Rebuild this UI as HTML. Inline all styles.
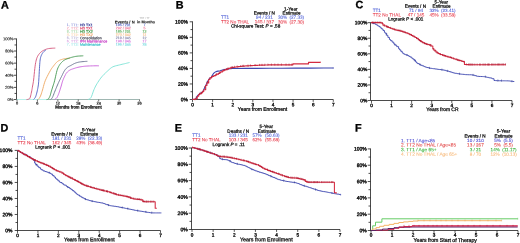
<!DOCTYPE html>
<html><head><meta charset="utf-8"><style>
html,body{margin:0;padding:0;background:#fff;width:520px;height:243px;overflow:hidden}
svg{display:block}
text{font-family:"Liberation Sans", sans-serif;stroke-width:0.12px;paint-order:stroke}
</style></head><body>
<svg width="520" height="243" viewBox="0 0 520 243">
<defs><filter id="bl" x="0" y="0" width="520" height="243" filterUnits="userSpaceOnUse"><feGaussianBlur stdDeviation="0.45"/></filter></defs>
<rect width="520" height="243" fill="#fff"/>
<g filter="url(#bl)">
<rect width="520" height="243" fill="#fff"/>
<text x="1.00" y="8.42" transform="rotate(0.05 1.00 8.42)" font-size="10.8" fill="#000" stroke="#000" text-anchor="start" font-weight="bold" style="stroke-width:0.3px">A</text>
<line x1="16.50" y1="38.50" x2="16.50" y2="99.90" stroke="#2a2a2a" stroke-width="0.85"/>
<line x1="13.70" y1="38.90" x2="16.50" y2="38.90" stroke="#222" stroke-width="0.8"/>
<text x="13.40" y="40.31" transform="rotate(0.05 13.40 40.31)" font-size="4.1" fill="#111" stroke="#111" text-anchor="end" font-weight="normal" style="stroke-width:0.12px">100%</text>
<line x1="14.50" y1="44.96" x2="16.50" y2="44.96" stroke="#222" stroke-width="0.8"/>
<line x1="13.70" y1="51.02" x2="16.50" y2="51.02" stroke="#222" stroke-width="0.8"/>
<text x="13.40" y="52.43" transform="rotate(0.05 13.40 52.43)" font-size="4.1" fill="#111" stroke="#111" text-anchor="end" font-weight="normal" style="stroke-width:0.12px">80%</text>
<line x1="14.50" y1="57.08" x2="16.50" y2="57.08" stroke="#222" stroke-width="0.8"/>
<line x1="13.70" y1="63.14" x2="16.50" y2="63.14" stroke="#222" stroke-width="0.8"/>
<text x="13.40" y="64.55" transform="rotate(0.05 13.40 64.55)" font-size="4.1" fill="#111" stroke="#111" text-anchor="end" font-weight="normal" style="stroke-width:0.12px">60%</text>
<line x1="14.50" y1="69.20" x2="16.50" y2="69.20" stroke="#222" stroke-width="0.8"/>
<line x1="13.70" y1="75.26" x2="16.50" y2="75.26" stroke="#222" stroke-width="0.8"/>
<text x="13.40" y="76.67" transform="rotate(0.05 13.40 76.67)" font-size="4.1" fill="#111" stroke="#111" text-anchor="end" font-weight="normal" style="stroke-width:0.12px">40%</text>
<line x1="14.50" y1="81.32" x2="16.50" y2="81.32" stroke="#222" stroke-width="0.8"/>
<line x1="13.70" y1="87.38" x2="16.50" y2="87.38" stroke="#222" stroke-width="0.8"/>
<text x="13.40" y="88.79" transform="rotate(0.05 13.40 88.79)" font-size="4.1" fill="#111" stroke="#111" text-anchor="end" font-weight="normal" style="stroke-width:0.12px">20%</text>
<line x1="14.50" y1="93.44" x2="16.50" y2="93.44" stroke="#222" stroke-width="0.8"/>
<line x1="13.70" y1="99.50" x2="16.50" y2="99.50" stroke="#222" stroke-width="0.8"/>
<text x="13.40" y="100.91" transform="rotate(0.05 13.40 100.91)" font-size="4.1" fill="#111" stroke="#111" text-anchor="end" font-weight="normal" style="stroke-width:0.12px">0%</text>
<line x1="16.50" y1="99.50" x2="48.00" y2="99.50" stroke="#a8ece4" stroke-width="0.8"/>
<line x1="48.00" y1="99.50" x2="139.60" y2="99.50" stroke="#88a49e" stroke-width="0.8"/>
<line x1="17.00" y1="99.50" x2="17.00" y2="101.60" stroke="#333" stroke-width="0.7"/>
<text x="17.00" y="104.64" transform="rotate(0.05 17.00 104.64)" font-size="3.9" fill="#222" stroke="#222" text-anchor="middle" font-weight="normal" style="stroke-width:0.2px">0</text>
<line x1="37.42" y1="99.50" x2="37.42" y2="101.60" stroke="#333" stroke-width="0.7"/>
<text x="37.42" y="104.64" transform="rotate(0.05 37.42 104.64)" font-size="3.9" fill="#222" stroke="#222" text-anchor="middle" font-weight="normal" style="stroke-width:0.2px">6</text>
<line x1="57.84" y1="99.50" x2="57.84" y2="101.60" stroke="#333" stroke-width="0.7"/>
<text x="57.84" y="104.64" transform="rotate(0.05 57.84 104.64)" font-size="3.9" fill="#222" stroke="#222" text-anchor="middle" font-weight="normal" style="stroke-width:0.2px">12</text>
<line x1="78.26" y1="99.50" x2="78.26" y2="101.60" stroke="#333" stroke-width="0.7"/>
<text x="78.26" y="104.64" transform="rotate(0.05 78.26 104.64)" font-size="3.9" fill="#222" stroke="#222" text-anchor="middle" font-weight="normal" style="stroke-width:0.2px">18</text>
<line x1="98.68" y1="99.50" x2="98.68" y2="101.60" stroke="#333" stroke-width="0.7"/>
<text x="98.68" y="104.64" transform="rotate(0.05 98.68 104.64)" font-size="3.9" fill="#222" stroke="#222" text-anchor="middle" font-weight="normal" style="stroke-width:0.2px">24</text>
<line x1="119.10" y1="99.50" x2="119.10" y2="101.60" stroke="#333" stroke-width="0.7"/>
<text x="119.10" y="104.64" transform="rotate(0.05 119.10 104.64)" font-size="3.9" fill="#222" stroke="#222" text-anchor="middle" font-weight="normal" style="stroke-width:0.2px">30</text>
<line x1="139.52" y1="99.50" x2="139.52" y2="101.60" stroke="#333" stroke-width="0.7"/>
<text x="139.52" y="104.64" transform="rotate(0.05 139.52 104.64)" font-size="3.9" fill="#222" stroke="#222" text-anchor="middle" font-weight="normal" style="stroke-width:0.2px">36</text>
<text x="78.40" y="108.51" transform="rotate(0.05 78.40 108.51)" font-size="4.38" fill="#1a1a1a" stroke="#1a1a1a" text-anchor="middle" font-weight="normal" style="stroke-width:0.3px">Months from Enrollment</text>
<path d="M26.50,99.60 L26.78,99.56 L27.18,99.51 L27.64,99.44 L28.10,99.34 L28.50,99.20 L28.83,99.09 L29.14,99.01 L29.42,98.86 L29.71,98.56 L30.00,98.00 L30.31,97.11 L30.62,95.95 L30.93,94.63 L31.23,93.28 L31.50,92.00 L31.75,90.80 L31.97,89.60 L32.19,88.40 L32.39,87.20 L32.60,86.00 L32.80,84.92 L32.98,83.97 L33.17,82.96 L33.37,81.70 L33.60,80.00 L33.87,77.64 L34.16,74.73 L34.48,71.63 L34.79,68.68 L35.10,66.20 L35.39,64.26 L35.67,62.64 L35.95,61.24 L36.26,59.99 L36.60,58.80 L36.98,57.71 L37.39,56.76 L37.83,55.92 L38.30,55.14 L38.80,54.40 L39.33,53.70 L39.88,53.06 L40.46,52.48 L41.10,51.93 L41.80,51.40 L42.60,50.89 L43.49,50.40 L44.42,49.94 L45.34,49.54 L46.20,49.20 L46.97,48.94 L47.69,48.76 L48.40,48.62 L49.15,48.51 L50.00,48.40 L51.05,48.30 L52.27,48.23 L53.49,48.17 L54.56,48.13 L55.30,48.10" fill="none" stroke="#d65c80" stroke-width="0.95" stroke-opacity="1.0" stroke-linejoin="round" stroke-linecap="butt"/>
<path d="M33.50,99.60 L33.78,99.28 L34.18,98.86 L34.64,98.34 L35.10,97.72 L35.50,97.00 L35.84,96.17 L36.15,95.22 L36.45,94.19 L36.73,93.10 L37.00,92.00 L37.27,90.86 L37.53,89.67 L37.78,88.45 L38.00,87.22 L38.20,86.00 L38.36,84.92 L38.47,83.97 L38.57,82.96 L38.68,81.70 L38.80,80.00 L38.95,77.64 L39.11,74.73 L39.28,71.63 L39.44,68.68 L39.60,66.20 L39.73,64.26 L39.85,62.64 L39.97,61.24 L40.11,59.99 L40.30,58.80 L40.54,57.71 L40.81,56.76 L41.11,55.92 L41.44,55.14 L41.80,54.40 L42.20,53.68 L42.64,53.02 L43.10,52.42 L43.56,51.88 L44.00,51.40 L44.44,51.00 L44.91,50.66 L45.35,50.38 L45.73,50.16 L46.00,50.00" fill="none" stroke="#5666c6" stroke-width="0.95" stroke-opacity="1.0" stroke-linejoin="round" stroke-linecap="butt"/>
<path d="M38.30,99.60 L38.60,99.15 L39.03,98.53 L39.53,97.79 L40.04,96.93 L40.50,96.00 L40.90,95.00 L41.28,93.93 L41.66,92.75 L42.06,91.44 L42.50,90.00 L42.96,88.38 L43.41,86.60 L43.91,84.71 L44.49,82.76 L45.20,80.80 L46.11,78.72 L47.20,76.48 L48.35,74.26 L49.45,72.21 L50.40,70.50 L51.15,69.22 L51.79,68.24 L52.36,67.46 L52.91,66.76 L53.50,66.00 L54.12,65.18 L54.75,64.38 L55.37,63.62 L55.99,62.92 L56.60,62.30 L57.19,61.78 L57.76,61.33 L58.33,60.95 L58.90,60.62 L59.50,60.30 L60.12,60.02 L60.75,59.78 L61.40,59.57 L62.05,59.38 L62.70,59.20 L63.34,59.03 L63.98,58.87 L64.62,58.73 L65.29,58.61 L66.00,58.50 L66.82,58.41 L67.74,58.34 L68.65,58.28 L69.44,58.23 L70.00,58.20" fill="none" stroke="#eeac68" stroke-width="0.95" stroke-opacity="1.0" stroke-linejoin="round" stroke-linecap="butt"/>
<path d="M46.50,99.60 L46.75,99.56 L47.10,99.52 L47.50,99.44 L47.92,99.28 L48.30,99.00 L48.65,98.58 L49.00,98.06 L49.35,97.45 L49.68,96.76 L50.00,96.00 L50.30,95.14 L50.57,94.19 L50.84,93.17 L51.11,92.12 L51.40,91.10 L51.71,90.09 L52.03,89.08 L52.35,88.06 L52.68,87.03 L53.00,86.00 L53.31,85.05 L53.60,84.17 L53.90,83.25 L54.23,82.17 L54.60,80.80 L55.03,78.98 L55.51,76.79 L56.02,74.48 L56.52,72.30 L57.00,70.50 L57.45,69.13 L57.88,68.03 L58.31,67.12 L58.74,66.30 L59.20,65.50 L59.68,64.73 L60.16,64.05 L60.66,63.43 L61.18,62.85 L61.70,62.30 L62.22,61.77 L62.72,61.29 L63.25,60.84 L63.83,60.41 L64.50,60.00 L65.28,59.60 L66.16,59.22 L67.08,58.85 L68.01,58.51 L68.90,58.20 L69.74,57.92 L70.56,57.66 L71.37,57.42 L72.18,57.20 L73.00,57.00 L73.79,56.81 L74.54,56.63 L75.31,56.47 L76.15,56.33 L77.10,56.20 L78.30,56.09 L79.73,55.99 L81.17,55.91 L82.42,55.85 L83.30,55.80" fill="none" stroke="#4c9c58" stroke-width="0.95" stroke-opacity="1.0" stroke-linejoin="round" stroke-linecap="butt"/>
<path d="M50.50,99.60 L50.75,99.38 L51.09,99.12 L51.50,98.76 L51.94,98.24 L52.40,97.50 L52.88,96.47 L53.39,95.19 L53.93,93.78 L54.48,92.34 L55.00,91.00 L55.52,89.74 L56.04,88.48 L56.55,87.25 L57.04,86.08 L57.50,85.00 L57.91,84.06 L58.27,83.24 L58.62,82.47 L58.98,81.68 L59.40,80.80 L59.88,79.81 L60.39,78.74 L60.93,77.65 L61.47,76.56 L62.00,75.50 L62.52,74.45 L63.03,73.39 L63.54,72.36 L64.06,71.38 L64.60,70.50 L65.15,69.72 L65.71,69.03 L66.28,68.40 L66.88,67.83 L67.50,67.30 L68.16,66.84 L68.86,66.45 L69.57,66.10 L70.29,65.76 L71.00,65.40 L71.70,65.01 L72.40,64.61 L73.09,64.21 L73.79,63.84 L74.50,63.50 L75.21,63.21 L75.92,62.94 L76.63,62.70 L77.36,62.49 L78.10,62.30 L78.84,62.14 L79.57,62.01 L80.32,61.90 L81.12,61.80 L82.00,61.70 L83.07,61.60 L84.31,61.51 L85.56,61.42 L86.64,61.35 L87.40,61.30" fill="none" stroke="#6e7694" stroke-width="0.95" stroke-opacity="1.0" stroke-linejoin="round" stroke-linecap="butt"/>
<path d="M54.50,99.60 L54.79,99.40 L55.21,99.14 L55.70,98.82 L56.18,98.44 L56.60,98.00 L56.96,97.50 L57.29,96.94 L57.60,96.33 L57.90,95.68 L58.20,95.00 L58.49,94.30 L58.76,93.56 L59.04,92.79 L59.31,91.97 L59.60,91.10 L59.91,90.16 L60.23,89.15 L60.56,88.10 L60.88,87.05 L61.20,86.00 L61.50,84.96 L61.78,83.91 L62.06,82.86 L62.36,81.82 L62.70,80.80 L63.08,79.79 L63.50,78.78 L63.94,77.80 L64.38,76.86 L64.80,76.00 L65.19,75.22 L65.55,74.50 L65.92,73.84 L66.32,73.21 L66.80,72.60 L67.35,72.01 L67.96,71.45 L68.60,70.92 L69.29,70.44 L70.00,70.00 L70.75,69.62 L71.54,69.31 L72.36,69.03 L73.19,68.76 L74.00,68.50 L74.78,68.24 L75.54,67.98 L76.31,67.74 L77.12,67.52 L78.00,67.30 L78.99,67.09 L80.06,66.89 L81.16,66.71 L82.26,66.54 L83.30,66.40 L84.24,66.28 L85.11,66.19 L85.98,66.12 L86.92,66.06 L88.00,66.00 L89.30,65.94 L90.78,65.90 L92.31,65.86 L93.76,65.82 L95.00,65.80 L96.06,65.79 L97.01,65.79 L97.83,65.79 L98.50,65.80 L99.00,65.80" fill="none" stroke="#cc68dc" stroke-width="0.95" stroke-opacity="1.0" stroke-linejoin="round" stroke-linecap="butt"/>
<path d="M88.00,99.60 L88.41,99.41 L88.98,99.19 L89.66,98.86 L90.35,98.32 L91.00,97.50 L91.60,96.26 L92.20,94.66 L92.80,92.89 L93.40,91.14 L94.00,89.60 L94.57,88.31 L95.11,87.14 L95.67,86.04 L96.28,84.91 L97.00,83.70 L97.83,82.37 L98.73,80.97 L99.71,79.54 L100.73,78.14 L101.80,76.80 L102.94,75.51 L104.17,74.23 L105.42,73.01 L106.65,71.85 L107.80,70.80 L108.82,69.86 L109.74,69.00 L110.65,68.22 L111.61,67.52 L112.70,66.90 L113.97,66.37 L115.36,65.93 L116.82,65.57 L118.25,65.23 L119.60,64.90 L120.87,64.58 L122.12,64.28 L123.32,64.00 L124.46,63.74 L125.50,63.50 L126.49,63.26 L127.43,63.02 L128.28,62.81 L128.99,62.63 L129.50,62.50" fill="none" stroke="#7ee4d6" stroke-width="0.95" stroke-opacity="1.0" stroke-linejoin="round" stroke-linecap="butt"/>
<text x="144.50" y="19.09" transform="rotate(0.05 144.50 19.09)" font-size="2.6" fill="#999" stroke="#999" text-anchor="middle" font-weight="normal" style="stroke-width:0">TTP / TT</text>
<text x="114.80" y="23.41" transform="rotate(0.05 114.80 23.41)" font-size="4.1" fill="#111" stroke="#111" text-anchor="start" font-weight="bold" style="stroke-width:0.1px">Events / N</text>
<text x="137.00" y="23.31" transform="rotate(0.05 137.00 23.31)" font-size="3.8" fill="#111" stroke="#111" text-anchor="start" font-weight="bold" style="stroke-width:0.1px">in Months</text>
<text x="66.70" y="26.14" transform="rotate(0.05 66.70 26.14)" font-size="3.6" fill="#8890d8" stroke="#8890d8" text-anchor="start" font-weight="normal" style="stroke-width:0.1px">1.</text>
<text x="71.00" y="26.14" transform="rotate(0.05 71.00 26.14)" font-size="3.6" fill="#8890d8" stroke="#8890d8" text-anchor="start" font-weight="normal" style="stroke-width:0.1px">TT1:</text>
<text x="80.00" y="26.14" transform="rotate(0.05 80.00 26.14)" font-size="3.6" fill="#3a4098" stroke="#3a4098" text-anchor="start" font-weight="normal" style="stroke-width:0.2px">HD TX1</text>
<text x="123.20" y="26.14" transform="rotate(0.05 123.20 26.14)" font-size="3.6" fill="#6070c8" stroke="#6070c8" text-anchor="middle" font-weight="normal" style="stroke-width:0.15px">195 / 231</text>
<text x="144.50" y="26.14" transform="rotate(0.05 144.50 26.14)" font-size="3.6" fill="#6070c8" stroke="#6070c8" text-anchor="middle" font-weight="normal" style="stroke-width:0.15px">7</text>
<text x="66.70" y="29.39" transform="rotate(0.05 66.70 29.39)" font-size="3.6" fill="#f0a0b4" stroke="#f0a0b4" text-anchor="start" font-weight="normal" style="stroke-width:0.1px">2.</text>
<text x="71.00" y="29.39" transform="rotate(0.05 71.00 29.39)" font-size="3.6" fill="#f0a0b4" stroke="#f0a0b4" text-anchor="start" font-weight="normal" style="stroke-width:0.1px">TT2:</text>
<text x="80.00" y="29.39" transform="rotate(0.05 80.00 29.39)" font-size="3.6" fill="#e05070" stroke="#e05070" text-anchor="start" font-weight="normal" style="stroke-width:0.2px">HD TX1</text>
<text x="123.20" y="29.39" transform="rotate(0.05 123.20 29.39)" font-size="3.6" fill="#f080a0" stroke="#f080a0" text-anchor="middle" font-weight="normal" style="stroke-width:0.15px">292 / 342</text>
<text x="144.50" y="29.39" transform="rotate(0.05 144.50 29.39)" font-size="3.6" fill="#f080a0" stroke="#f080a0" text-anchor="middle" font-weight="normal" style="stroke-width:0.15px">5</text>
<text x="66.70" y="32.64" transform="rotate(0.05 66.70 32.64)" font-size="3.6" fill="#a0d4a0" stroke="#a0d4a0" text-anchor="start" font-weight="normal" style="stroke-width:0.1px">3.</text>
<text x="71.00" y="32.64" transform="rotate(0.05 71.00 32.64)" font-size="3.6" fill="#a0d4a0" stroke="#a0d4a0" text-anchor="start" font-weight="normal" style="stroke-width:0.1px">TT1:</text>
<text x="80.00" y="32.64" transform="rotate(0.05 80.00 32.64)" font-size="3.6" fill="#3c9440" stroke="#3c9440" text-anchor="start" font-weight="normal" style="stroke-width:0.2px">HD TX2</text>
<text x="123.20" y="32.64" transform="rotate(0.05 123.20 32.64)" font-size="3.6" fill="#60b060" stroke="#60b060" text-anchor="middle" font-weight="normal" style="stroke-width:0.15px">185 / 231</text>
<text x="144.50" y="32.64" transform="rotate(0.05 144.50 32.64)" font-size="3.6" fill="#60b060" stroke="#60b060" text-anchor="middle" font-weight="normal" style="stroke-width:0.15px">12</text>
<text x="66.70" y="35.89" transform="rotate(0.05 66.70 35.89)" font-size="3.6" fill="#f8d0a8" stroke="#f8d0a8" text-anchor="start" font-weight="normal" style="stroke-width:0.1px">4.</text>
<text x="71.00" y="35.89" transform="rotate(0.05 71.00 35.89)" font-size="3.6" fill="#f8d0a8" stroke="#f8d0a8" text-anchor="start" font-weight="normal" style="stroke-width:0.1px">TT2:</text>
<text x="80.00" y="35.89" transform="rotate(0.05 80.00 35.89)" font-size="3.6" fill="#f0aa70" stroke="#f0aa70" text-anchor="start" font-weight="normal" style="stroke-width:0.2px">HD TX2</text>
<text x="123.20" y="35.89" transform="rotate(0.05 123.20 35.89)" font-size="3.6" fill="#f4c090" stroke="#f4c090" text-anchor="middle" font-weight="normal" style="stroke-width:0.15px">270 / 342</text>
<text x="144.50" y="35.89" transform="rotate(0.05 144.50 35.89)" font-size="3.6" fill="#f4c090" stroke="#f4c090" text-anchor="middle" font-weight="normal" style="stroke-width:0.15px">11</text>
<text x="66.70" y="39.14" transform="rotate(0.05 66.70 39.14)" font-size="3.6" fill="#b0a8d0" stroke="#b0a8d0" text-anchor="start" font-weight="normal" style="stroke-width:0.1px">5.</text>
<text x="71.00" y="39.14" transform="rotate(0.05 71.00 39.14)" font-size="3.6" fill="#b0a8d0" stroke="#b0a8d0" text-anchor="start" font-weight="normal" style="stroke-width:0.1px">TT2:</text>
<text x="80.00" y="39.14" transform="rotate(0.05 80.00 39.14)" font-size="3.6" fill="#50505e" stroke="#50505e" text-anchor="start" font-weight="normal" style="stroke-width:0.2px">Consolidation</text>
<text x="123.20" y="39.14" transform="rotate(0.05 123.20 39.14)" font-size="3.6" fill="#9090b0" stroke="#9090b0" text-anchor="middle" font-weight="normal" style="stroke-width:0.15px">219 / 345</text>
<text x="144.50" y="39.14" transform="rotate(0.05 144.50 39.14)" font-size="3.6" fill="#9090b0" stroke="#9090b0" text-anchor="middle" font-weight="normal" style="stroke-width:0.15px">12</text>
<text x="66.70" y="42.39" transform="rotate(0.05 66.70 42.39)" font-size="3.6" fill="#d8a0e0" stroke="#d8a0e0" text-anchor="start" font-weight="normal" style="stroke-width:0.1px">6.</text>
<text x="71.00" y="42.39" transform="rotate(0.05 71.00 42.39)" font-size="3.6" fill="#d8a0e0" stroke="#d8a0e0" text-anchor="start" font-weight="normal" style="stroke-width:0.1px">TT2:</text>
<text x="80.00" y="42.39" transform="rotate(0.05 80.00 42.39)" font-size="3.6" fill="#c848c8" stroke="#c848c8" text-anchor="start" font-weight="normal" style="stroke-width:0.2px">IFN Maintenance</text>
<text x="123.20" y="42.39" transform="rotate(0.05 123.20 42.39)" font-size="3.6" fill="#d880e0" stroke="#d880e0" text-anchor="middle" font-weight="normal" style="stroke-width:0.15px">198 / 345</text>
<text x="144.50" y="42.39" transform="rotate(0.05 144.50 42.39)" font-size="3.6" fill="#d880e0" stroke="#d880e0" text-anchor="middle" font-weight="normal" style="stroke-width:0.15px">17</text>
<text x="66.70" y="45.64" transform="rotate(0.05 66.70 45.64)" font-size="3.6" fill="#a0e8e8" stroke="#a0e8e8" text-anchor="start" font-weight="normal" style="stroke-width:0.1px">7.</text>
<text x="71.00" y="45.64" transform="rotate(0.05 71.00 45.64)" font-size="3.6" fill="#a0e8e8" stroke="#a0e8e8" text-anchor="start" font-weight="normal" style="stroke-width:0.1px">TT2:</text>
<text x="80.00" y="45.64" transform="rotate(0.05 80.00 45.64)" font-size="3.6" fill="#48c4cc" stroke="#48c4cc" text-anchor="start" font-weight="normal" style="stroke-width:0.2px">Maintenance</text>
<text x="123.20" y="45.64" transform="rotate(0.05 123.20 45.64)" font-size="3.6" fill="#80dce0" stroke="#80dce0" text-anchor="middle" font-weight="normal" style="stroke-width:0.15px">196 / 345</text>
<text x="144.50" y="45.64" transform="rotate(0.05 144.50 45.64)" font-size="3.6" fill="#80dce0" stroke="#80dce0" text-anchor="middle" font-weight="normal" style="stroke-width:0.15px">28</text>
<text x="175.70" y="8.42" transform="rotate(0.05 175.70 8.42)" font-size="10.8" fill="#000" stroke="#000" text-anchor="start" font-weight="bold" style="stroke-width:0.3px">B</text>
<line x1="192.50" y1="21.40" x2="192.50" y2="99.90" stroke="#2a2a2a" stroke-width="0.85"/>
<line x1="189.70" y1="21.80" x2="192.50" y2="21.80" stroke="#222" stroke-width="0.8"/>
<text x="187.90" y="23.52" transform="rotate(0.05 187.90 23.52)" font-size="5.0" fill="#111" stroke="#111" text-anchor="end" font-weight="normal" style="stroke-width:0.35px">100%</text>
<line x1="190.50" y1="29.57" x2="192.50" y2="29.57" stroke="#222" stroke-width="0.8"/>
<line x1="189.70" y1="37.34" x2="192.50" y2="37.34" stroke="#222" stroke-width="0.8"/>
<text x="187.90" y="39.06" transform="rotate(0.05 187.90 39.06)" font-size="5.0" fill="#111" stroke="#111" text-anchor="end" font-weight="normal" style="stroke-width:0.35px">80%</text>
<line x1="190.50" y1="45.11" x2="192.50" y2="45.11" stroke="#222" stroke-width="0.8"/>
<line x1="189.70" y1="52.88" x2="192.50" y2="52.88" stroke="#222" stroke-width="0.8"/>
<text x="187.90" y="54.60" transform="rotate(0.05 187.90 54.60)" font-size="5.0" fill="#111" stroke="#111" text-anchor="end" font-weight="normal" style="stroke-width:0.35px">60%</text>
<line x1="190.50" y1="60.65" x2="192.50" y2="60.65" stroke="#222" stroke-width="0.8"/>
<line x1="189.70" y1="68.42" x2="192.50" y2="68.42" stroke="#222" stroke-width="0.8"/>
<text x="187.90" y="70.14" transform="rotate(0.05 187.90 70.14)" font-size="5.0" fill="#111" stroke="#111" text-anchor="end" font-weight="normal" style="stroke-width:0.35px">40%</text>
<line x1="190.50" y1="76.19" x2="192.50" y2="76.19" stroke="#222" stroke-width="0.8"/>
<line x1="189.70" y1="83.96" x2="192.50" y2="83.96" stroke="#222" stroke-width="0.8"/>
<text x="187.90" y="85.68" transform="rotate(0.05 187.90 85.68)" font-size="5.0" fill="#111" stroke="#111" text-anchor="end" font-weight="normal" style="stroke-width:0.35px">20%</text>
<line x1="190.50" y1="91.73" x2="192.50" y2="91.73" stroke="#222" stroke-width="0.8"/>
<line x1="189.70" y1="99.50" x2="192.50" y2="99.50" stroke="#222" stroke-width="0.8"/>
<text x="187.90" y="101.22" transform="rotate(0.05 187.90 101.22)" font-size="5.0" fill="#111" stroke="#111" text-anchor="end" font-weight="normal" style="stroke-width:0.35px">0%</text>
<line x1="192.10" y1="99.50" x2="333.30" y2="99.50" stroke="#2a2a2a" stroke-width="0.85"/>
<line x1="192.50" y1="99.50" x2="192.50" y2="101.90" stroke="#222" stroke-width="0.75"/>
<text x="192.50" y="106.22" transform="rotate(0.05 192.50 106.22)" font-size="4.7" fill="#111" stroke="#111" text-anchor="middle" font-weight="normal" style="stroke-width:0.35px">0</text>
<line x1="212.61" y1="99.50" x2="212.61" y2="101.90" stroke="#222" stroke-width="0.75"/>
<text x="212.61" y="106.22" transform="rotate(0.05 212.61 106.22)" font-size="4.7" fill="#111" stroke="#111" text-anchor="middle" font-weight="normal" style="stroke-width:0.35px">1</text>
<line x1="232.73" y1="99.50" x2="232.73" y2="101.90" stroke="#222" stroke-width="0.75"/>
<text x="232.73" y="106.22" transform="rotate(0.05 232.73 106.22)" font-size="4.7" fill="#111" stroke="#111" text-anchor="middle" font-weight="normal" style="stroke-width:0.35px">2</text>
<line x1="252.84" y1="99.50" x2="252.84" y2="101.90" stroke="#222" stroke-width="0.75"/>
<text x="252.84" y="106.22" transform="rotate(0.05 252.84 106.22)" font-size="4.7" fill="#111" stroke="#111" text-anchor="middle" font-weight="normal" style="stroke-width:0.35px">3</text>
<line x1="272.96" y1="99.50" x2="272.96" y2="101.90" stroke="#222" stroke-width="0.75"/>
<text x="272.96" y="106.22" transform="rotate(0.05 272.96 106.22)" font-size="4.7" fill="#111" stroke="#111" text-anchor="middle" font-weight="normal" style="stroke-width:0.35px">4</text>
<line x1="293.07" y1="99.50" x2="293.07" y2="101.90" stroke="#222" stroke-width="0.75"/>
<text x="293.07" y="106.22" transform="rotate(0.05 293.07 106.22)" font-size="4.7" fill="#111" stroke="#111" text-anchor="middle" font-weight="normal" style="stroke-width:0.35px">5</text>
<line x1="313.19" y1="99.50" x2="313.19" y2="101.90" stroke="#222" stroke-width="0.75"/>
<text x="313.19" y="106.22" transform="rotate(0.05 313.19 106.22)" font-size="4.7" fill="#111" stroke="#111" text-anchor="middle" font-weight="normal" style="stroke-width:0.35px">6</text>
<line x1="333.30" y1="99.50" x2="333.30" y2="101.90" stroke="#222" stroke-width="0.75"/>
<text x="333.30" y="106.22" transform="rotate(0.05 333.30 106.22)" font-size="4.7" fill="#111" stroke="#111" text-anchor="middle" font-weight="normal" style="stroke-width:0.35px">7</text>
<text x="262.50" y="110.72" transform="rotate(0.05 262.50 110.72)" font-size="5.0" fill="#1a1a1a" stroke="#1a1a1a" text-anchor="middle" font-weight="normal" style="stroke-width:0.3px">Years from Enrollment</text>
<text x="290.80" y="10.48" transform="rotate(0.05 290.80 10.48)" font-size="4.6" fill="#111" stroke="#111" text-anchor="middle" font-weight="normal" style="stroke-width:0.25px">1-Year</text>
<text x="264.30" y="14.48" transform="rotate(0.05 264.30 14.48)" font-size="4.6" fill="#111" stroke="#111" text-anchor="middle" font-weight="normal" style="stroke-width:0.25px">Events / N</text>
<text x="291.50" y="14.48" transform="rotate(0.05 291.50 14.48)" font-size="4.6" fill="#111" stroke="#111" text-anchor="middle" font-weight="normal" style="stroke-width:0.25px">Estimate</text>
<text x="220.90" y="18.68" transform="rotate(0.05 220.90 18.68)" font-size="4.6" fill="#4a5cd6" stroke="#4a5cd6" text-anchor="start" font-weight="normal" style="stroke-width:0.08px">TT1</text>
<text x="264.40" y="18.68" transform="rotate(0.05 264.40 18.68)" font-size="4.6" fill="#4a5cd6" stroke="#4a5cd6" text-anchor="middle" font-weight="normal" style="stroke-width:0.08px">94 / 231</text>
<text x="278.00" y="18.68" transform="rotate(0.05 278.00 18.68)" font-size="4.6" fill="#4a5cd6" stroke="#4a5cd6" text-anchor="start" font-weight="normal" style="stroke-width:0.08px">30%</text>
<text x="289.50" y="18.68" transform="rotate(0.05 289.50 18.68)" font-size="4.6" fill="#4a5cd6" stroke="#4a5cd6" text-anchor="start" font-weight="normal" style="stroke-width:0.08px">(27.33)</text>
<text x="220.90" y="23.38" transform="rotate(0.05 220.90 23.38)" font-size="4.6" fill="#e63a4a" stroke="#e63a4a" text-anchor="start" font-weight="normal" style="stroke-width:0.08px">TT2 No THAL</text>
<text x="264.40" y="23.38" transform="rotate(0.05 264.40 23.38)" font-size="4.6" fill="#e63a4a" stroke="#e63a4a" text-anchor="middle" font-weight="normal" style="stroke-width:0.08px">145 / 337</text>
<text x="278.00" y="23.38" transform="rotate(0.05 278.00 23.38)" font-size="4.6" fill="#e63a4a" stroke="#e63a4a" text-anchor="start" font-weight="normal" style="stroke-width:0.08px">30%</text>
<text x="289.50" y="23.38" transform="rotate(0.05 289.50 23.38)" font-size="4.6" fill="#e63a4a" stroke="#e63a4a" text-anchor="start" font-weight="normal" style="stroke-width:0.08px">(27.30)</text>
<text x="230.90" y="27.48" transform="rotate(0.05 230.90 27.48)" font-size="4.6" fill="#111" stroke="#111" text-anchor="start" font-weight="normal" style="stroke-width:0.25px">Chi-square Test: <tspan font-style="italic">P</tspan> = .58</text>
<path d="M192.30,99.30 L192.83,99.39 L193.59,99.54 L194.43,99.57 L195.20,99.30 L195.85,98.57 L196.47,97.51 L197.10,96.38 L197.80,95.40 L198.63,94.64 L199.55,93.96 L200.44,93.36 L201.20,92.80 L201.75,92.39 L202.16,92.11 L202.54,91.75 L203.00,91.10 L203.55,90.09 L204.14,88.83 L204.79,87.40 L205.50,85.90 L206.33,84.18 L207.24,82.26 L208.16,80.43 L209.00,79.00 L209.73,78.16 L210.41,77.71 L211.03,77.38 L211.60,76.90 L212.07,76.17 L212.45,75.35 L212.83,74.53 L213.30,73.80 L213.85,73.18 L214.44,72.62 L215.11,72.12 L215.90,71.70 L216.86,71.38 L217.94,71.14 L219.09,70.94 L220.20,70.70 L221.25,70.40 L222.27,70.08 L223.34,69.77 L224.50,69.50 L225.76,69.28 L227.09,69.09 L228.51,68.94 L230.00,68.80 L230.71,68.70 L230.92,68.62 L232.37,68.57 L236.80,68.50 L245.26,68.42 L256.62,68.34 L269.37,68.27 L282.00,68.20 L295.60,68.14 L310.48,68.08 L323.94,68.03 L333.30,68.00" fill="none" stroke="#3c46b0" stroke-width="1.1" stroke-opacity="1.0" stroke-linejoin="round" stroke-linecap="butt"/>
<path d="M192.30,99.30 L193.26,99.30 L193.26,99.30 L194.62,99.30 L194.62,99.30 L195.75,99.30 L195.75,98.71 L197.18,98.71 L197.18,96.25 L198.65,96.25 L198.65,94.63 L199.38,94.63 L199.38,94.08 L200.05,94.08 L200.05,93.62 L201.79,93.62 L201.79,92.37 L202.77,92.37 L202.77,91.44 L203.73,91.44 L203.73,89.72 L205.67,89.72 L205.67,85.54 L206.93,85.54 L206.93,82.90 L208.67,82.90 L208.67,79.53 L209.94,79.53 L209.94,77.93 L211.42,77.93 L211.42,77.01 L212.27,77.01 L212.27,76.45 L213.74,76.45 L213.74,75.68 L215.52,75.68 L215.52,74.84 L216.85,74.84 L216.85,74.19 L218.47,74.19 L218.47,73.30 L219.99,73.30 L219.99,72.37 L220.72,72.37 L220.72,71.91 L222.36,71.91 L222.36,70.94 L223.78,70.94 L223.78,70.26 L224.82,70.26 L224.82,69.90 L225.51,69.90 L225.51,69.68 L227.28,69.68 L227.28,68.94 L228.55,68.94 L228.55,68.38 L230.13,68.38 L230.13,67.85 L231.92,67.85 L231.92,67.47 L233.50,67.47 L233.50,67.23 L235.35,67.23 L235.35,66.99 L236.51,66.99 L236.51,66.84 L238.20,66.84 L238.20,66.61 L239.43,66.61 L239.43,66.45 L241.30,66.45 L241.30,66.27 L243.09,66.27 L243.09,66.12 L243.87,66.12 L243.87,66.06 L244.70,66.06 L244.70,66.00 L245.63,66.00 L245.63,65.93 L247.53,65.93 L247.53,65.80 L248.75,65.80 L248.75,65.73 L250.21,65.73 L250.21,65.64 L251.26,65.64 L251.26,65.58 L252.56,65.58 L252.56,65.52 L253.72,65.52 L253.72,65.46 L254.82,65.46 L254.82,65.41 L256.23,65.41 L256.23,65.34 L257.64,65.34 L257.64,65.27 L259.47,65.27 L259.47,65.19 L261.00,65.19 L261.00,65.13 L262.86,65.13 L262.86,65.06 L264.63,65.06 L264.63,65.00 L266.56,65.00 L266.56,64.95 L268.09,64.95 L268.09,64.92 L268.95,64.92 L268.95,64.90 L270.72,64.90 L270.72,64.88 L272.62,64.88 L272.62,64.86 L274.45,64.86 L274.45,64.84 L275.84,64.84 L275.84,64.83 L277.42,64.83 L277.42,64.83 L278.34,64.83 L278.34,64.82 L280.07,64.82 L280.07,64.82 L281.47,64.82 L281.47,64.81 L282.49,64.81 L282.49,64.81 L283.22,64.81 L283.22,64.81 L284.98,64.81 L284.98,64.81 L286.92,64.81 L286.92,64.81 L287.68,64.81 L287.68,64.81 L289.37,64.81 L289.37,64.81 L290.56,64.81 L290.56,64.80 L291.40,64.80 L291.40,64.80 L292.43,64.80 L292.43,64.80 L292.90,64.80 L292.90,64.80 L292.90,64.80 L292.90,63.90 L305.80,63.90 L305.80,63.90 L308.50,63.90 L308.50,62.40 L320.40,62.40 L320.40,62.40" fill="none" stroke="#d42a40" stroke-width="1.15" stroke-opacity="1.0" stroke-linejoin="round" stroke-linecap="butt"/>
<line x1="194.92" y1="98.14" x2="194.92" y2="100.24" stroke="#a81830" stroke-width="0.55"/>
<line x1="196.28" y1="96.56" x2="196.28" y2="98.66" stroke="#a81830" stroke-width="0.55"/>
<line x1="199.69" y1="92.57" x2="199.69" y2="94.67" stroke="#a81830" stroke-width="0.55"/>
<line x1="201.05" y1="91.61" x2="201.05" y2="93.71" stroke="#a81830" stroke-width="0.55"/>
<line x1="204.84" y1="85.99" x2="204.84" y2="88.09" stroke="#a81830" stroke-width="0.55"/>
<line x1="207.23" y1="80.99" x2="207.23" y2="83.09" stroke="#a81830" stroke-width="0.55"/>
<line x1="211.60" y1="75.60" x2="211.60" y2="77.70" stroke="#a81830" stroke-width="0.55"/>
<line x1="216.33" y1="73.16" x2="216.33" y2="75.26" stroke="#a81830" stroke-width="0.55"/>
<line x1="219.35" y1="71.46" x2="219.35" y2="73.56" stroke="#a81830" stroke-width="0.55"/>
<line x1="224.15" y1="68.82" x2="224.15" y2="70.92" stroke="#a81830" stroke-width="0.55"/>
<line x1="226.46" y1="68.01" x2="226.46" y2="70.11" stroke="#a81830" stroke-width="0.55"/>
<line x1="227.94" y1="67.34" x2="227.94" y2="69.44" stroke="#a81830" stroke-width="0.55"/>
<line x1="231.30" y1="66.29" x2="231.30" y2="68.39" stroke="#a81830" stroke-width="0.55"/>
<line x1="232.61" y1="66.06" x2="232.61" y2="68.16" stroke="#a81830" stroke-width="0.55"/>
<line x1="234.52" y1="65.79" x2="234.52" y2="67.89" stroke="#a81830" stroke-width="0.55"/>
<line x1="237.19" y1="65.45" x2="237.19" y2="67.55" stroke="#a81830" stroke-width="0.55"/>
<line x1="240.59" y1="65.03" x2="240.59" y2="67.13" stroke="#a81830" stroke-width="0.55"/>
<line x1="242.35" y1="64.88" x2="242.35" y2="66.98" stroke="#a81830" stroke-width="0.55"/>
<line x1="243.70" y1="64.77" x2="243.70" y2="66.87" stroke="#a81830" stroke-width="0.55"/>
<line x1="248.02" y1="64.47" x2="248.02" y2="66.57" stroke="#a81830" stroke-width="0.55"/>
<line x1="250.35" y1="64.33" x2="250.35" y2="66.43" stroke="#a81830" stroke-width="0.55"/>
<line x1="255.01" y1="64.10" x2="255.01" y2="66.20" stroke="#a81830" stroke-width="0.55"/>
<line x1="259.43" y1="63.89" x2="259.43" y2="65.99" stroke="#a81830" stroke-width="0.55"/>
<line x1="261.99" y1="63.79" x2="261.99" y2="65.89" stroke="#a81830" stroke-width="0.55"/>
<line x1="264.85" y1="63.70" x2="264.85" y2="65.80" stroke="#a81830" stroke-width="0.55"/>
<line x1="267.92" y1="63.62" x2="267.92" y2="65.72" stroke="#a81830" stroke-width="0.55"/>
<line x1="271.44" y1="63.57" x2="271.44" y2="65.67" stroke="#a81830" stroke-width="0.55"/>
<line x1="274.79" y1="63.54" x2="274.79" y2="65.64" stroke="#a81830" stroke-width="0.55"/>
<line x1="278.00" y1="63.52" x2="278.00" y2="65.62" stroke="#a81830" stroke-width="0.55"/>
<line x1="281.43" y1="63.51" x2="281.43" y2="65.61" stroke="#a81830" stroke-width="0.55"/>
<line x1="286.02" y1="63.51" x2="286.02" y2="65.61" stroke="#a81830" stroke-width="0.55"/>
<line x1="289.04" y1="63.51" x2="289.04" y2="65.61" stroke="#a81830" stroke-width="0.55"/>
<line x1="291.80" y1="63.50" x2="291.80" y2="65.60" stroke="#a81830" stroke-width="0.55"/>
<line x1="320.40" y1="61.60" x2="320.40" y2="63.00" stroke="#d42a40" stroke-width="0.6"/>
<line x1="333.30" y1="67.20" x2="333.30" y2="68.80" stroke="#3c46b0" stroke-width="0.6"/>
<text x="355.50" y="8.32" transform="rotate(0.05 355.50 8.32)" font-size="10.8" fill="#000" stroke="#000" text-anchor="start" font-weight="bold" style="stroke-width:0.3px">C</text>
<line x1="370.50" y1="22.25" x2="370.50" y2="100.90" stroke="#2a2a2a" stroke-width="0.85"/>
<line x1="367.70" y1="22.65" x2="370.50" y2="22.65" stroke="#222" stroke-width="0.8"/>
<text x="367.30" y="24.34" transform="rotate(0.05 367.30 24.34)" font-size="4.9" fill="#111" stroke="#111" text-anchor="end" font-weight="normal" style="stroke-width:0.35px">100%</text>
<line x1="368.50" y1="30.43" x2="370.50" y2="30.43" stroke="#222" stroke-width="0.8"/>
<line x1="367.70" y1="38.22" x2="370.50" y2="38.22" stroke="#222" stroke-width="0.8"/>
<text x="367.30" y="39.91" transform="rotate(0.05 367.30 39.91)" font-size="4.9" fill="#111" stroke="#111" text-anchor="end" font-weight="normal" style="stroke-width:0.35px">80%</text>
<line x1="368.50" y1="46.00" x2="370.50" y2="46.00" stroke="#222" stroke-width="0.8"/>
<line x1="367.70" y1="53.79" x2="370.50" y2="53.79" stroke="#222" stroke-width="0.8"/>
<text x="367.30" y="55.48" transform="rotate(0.05 367.30 55.48)" font-size="4.9" fill="#111" stroke="#111" text-anchor="end" font-weight="normal" style="stroke-width:0.35px">60%</text>
<line x1="368.50" y1="61.57" x2="370.50" y2="61.57" stroke="#222" stroke-width="0.8"/>
<line x1="367.70" y1="69.36" x2="370.50" y2="69.36" stroke="#222" stroke-width="0.8"/>
<text x="367.30" y="71.05" transform="rotate(0.05 367.30 71.05)" font-size="4.9" fill="#111" stroke="#111" text-anchor="end" font-weight="normal" style="stroke-width:0.35px">40%</text>
<line x1="368.50" y1="77.14" x2="370.50" y2="77.14" stroke="#222" stroke-width="0.8"/>
<line x1="367.70" y1="84.93" x2="370.50" y2="84.93" stroke="#222" stroke-width="0.8"/>
<text x="367.30" y="86.62" transform="rotate(0.05 367.30 86.62)" font-size="4.9" fill="#111" stroke="#111" text-anchor="end" font-weight="normal" style="stroke-width:0.35px">20%</text>
<line x1="368.50" y1="92.72" x2="370.50" y2="92.72" stroke="#222" stroke-width="0.8"/>
<line x1="367.70" y1="100.50" x2="370.50" y2="100.50" stroke="#222" stroke-width="0.8"/>
<text x="367.30" y="102.19" transform="rotate(0.05 367.30 102.19)" font-size="4.9" fill="#111" stroke="#111" text-anchor="end" font-weight="normal" style="stroke-width:0.35px">0%</text>
<line x1="371.10" y1="100.50" x2="512.00" y2="100.50" stroke="#2a2a2a" stroke-width="0.85"/>
<line x1="371.50" y1="100.50" x2="371.50" y2="102.90" stroke="#222" stroke-width="0.75"/>
<text x="371.50" y="106.92" transform="rotate(0.05 371.50 106.92)" font-size="4.7" fill="#111" stroke="#111" text-anchor="middle" font-weight="normal" style="stroke-width:0.35px">0</text>
<line x1="391.57" y1="100.50" x2="391.57" y2="102.90" stroke="#222" stroke-width="0.75"/>
<text x="391.57" y="106.92" transform="rotate(0.05 391.57 106.92)" font-size="4.7" fill="#111" stroke="#111" text-anchor="middle" font-weight="normal" style="stroke-width:0.35px">1</text>
<line x1="411.64" y1="100.50" x2="411.64" y2="102.90" stroke="#222" stroke-width="0.75"/>
<text x="411.64" y="106.92" transform="rotate(0.05 411.64 106.92)" font-size="4.7" fill="#111" stroke="#111" text-anchor="middle" font-weight="normal" style="stroke-width:0.35px">2</text>
<line x1="431.71" y1="100.50" x2="431.71" y2="102.90" stroke="#222" stroke-width="0.75"/>
<text x="431.71" y="106.92" transform="rotate(0.05 431.71 106.92)" font-size="4.7" fill="#111" stroke="#111" text-anchor="middle" font-weight="normal" style="stroke-width:0.35px">3</text>
<line x1="451.79" y1="100.50" x2="451.79" y2="102.90" stroke="#222" stroke-width="0.75"/>
<text x="451.79" y="106.92" transform="rotate(0.05 451.79 106.92)" font-size="4.7" fill="#111" stroke="#111" text-anchor="middle" font-weight="normal" style="stroke-width:0.35px">4</text>
<line x1="471.86" y1="100.50" x2="471.86" y2="102.90" stroke="#222" stroke-width="0.75"/>
<text x="471.86" y="106.92" transform="rotate(0.05 471.86 106.92)" font-size="4.7" fill="#111" stroke="#111" text-anchor="middle" font-weight="normal" style="stroke-width:0.35px">5</text>
<line x1="491.93" y1="100.50" x2="491.93" y2="102.90" stroke="#222" stroke-width="0.75"/>
<text x="491.93" y="106.92" transform="rotate(0.05 491.93 106.92)" font-size="4.7" fill="#111" stroke="#111" text-anchor="middle" font-weight="normal" style="stroke-width:0.35px">6</text>
<line x1="512.00" y1="100.50" x2="512.00" y2="102.90" stroke="#222" stroke-width="0.75"/>
<text x="512.00" y="106.92" transform="rotate(0.05 512.00 106.92)" font-size="4.7" fill="#111" stroke="#111" text-anchor="middle" font-weight="normal" style="stroke-width:0.35px">7</text>
<text x="442.40" y="110.90" transform="rotate(0.05 442.40 110.90)" font-size="4.95" fill="#1a1a1a" stroke="#1a1a1a" text-anchor="middle" font-weight="normal" style="stroke-width:0.3px">Years from CR</text>
<text x="441.30" y="3.48" transform="rotate(0.05 441.30 3.48)" font-size="4.6" fill="#111" stroke="#111" text-anchor="middle" font-weight="normal" style="stroke-width:0.25px">5-Year</text>
<text x="415.40" y="7.63" transform="rotate(0.05 415.40 7.63)" font-size="4.6" fill="#111" stroke="#111" text-anchor="middle" font-weight="normal" style="stroke-width:0.25px">Events / N</text>
<text x="441.50" y="7.63" transform="rotate(0.05 441.50 7.63)" font-size="4.6" fill="#111" stroke="#111" text-anchor="middle" font-weight="normal" style="stroke-width:0.25px">Estimate</text>
<text x="372.70" y="12.08" transform="rotate(0.05 372.70 12.08)" font-size="4.6" fill="#4a5cd6" stroke="#4a5cd6" text-anchor="start" font-weight="normal" style="stroke-width:0.08px">TT1</text>
<text x="416.00" y="12.08" transform="rotate(0.05 416.00 12.08)" font-size="4.6" fill="#4a5cd6" stroke="#4a5cd6" text-anchor="middle" font-weight="normal" style="stroke-width:0.08px">71 / 94</text>
<text x="429.50" y="12.08" transform="rotate(0.05 429.50 12.08)" font-size="4.6" fill="#4a5cd6" stroke="#4a5cd6" text-anchor="start" font-weight="normal" style="stroke-width:0.08px">32%</text>
<text x="441.00" y="12.08" transform="rotate(0.05 441.00 12.08)" font-size="4.6" fill="#4a5cd6" stroke="#4a5cd6" text-anchor="start" font-weight="normal" style="stroke-width:0.08px">(23.41)</text>
<text x="372.70" y="16.38" transform="rotate(0.05 372.70 16.38)" font-size="4.6" fill="#e63a4a" stroke="#e63a4a" text-anchor="start" font-weight="normal" style="stroke-width:0.08px">TT2 No THAL</text>
<text x="416.00" y="16.38" transform="rotate(0.05 416.00 16.38)" font-size="4.6" fill="#e63a4a" stroke="#e63a4a" text-anchor="middle" font-weight="normal" style="stroke-width:0.08px">47 / 145</text>
<text x="429.50" y="16.38" transform="rotate(0.05 429.50 16.38)" font-size="4.6" fill="#e63a4a" stroke="#e63a4a" text-anchor="start" font-weight="normal" style="stroke-width:0.08px">45%</text>
<text x="441.00" y="16.38" transform="rotate(0.05 441.00 16.38)" font-size="4.6" fill="#e63a4a" stroke="#e63a4a" text-anchor="start" font-weight="normal" style="stroke-width:0.08px">(33.58)</text>
<text x="388.20" y="20.48" transform="rotate(0.05 388.20 20.48)" font-size="4.6" fill="#111" stroke="#111" text-anchor="start" font-weight="normal" style="stroke-width:0.25px">Logrank <tspan font-style="italic">P</tspan> &lt; .001</text>
<path d="M371.00,22.60 L371.96,22.60 L371.96,22.94 L373.00,22.94 L373.00,23.32 L374.92,23.32 L374.92,24.16 L376.25,24.16 L376.25,24.89 L377.61,24.89 L377.61,25.70 L378.28,25.70 L378.28,26.14 L379.47,26.14 L379.47,27.01 L380.87,27.01 L380.87,28.25 L381.55,28.25 L381.55,28.94 L383.00,28.94 L383.00,30.56 L384.47,30.56 L384.47,32.35 L385.20,32.35 L385.20,33.28 L386.66,33.28 L386.66,35.34 L387.92,35.34 L387.92,37.41 L389.45,37.41 L389.45,39.54 L390.56,39.54 L390.56,40.68 L392.13,40.68 L392.13,42.14 L393.74,42.14 L393.74,43.72 L394.42,43.72 L394.42,44.39 L395.15,44.39 L395.15,45.11 L396.68,45.11 L396.68,46.64 L398.58,46.64 L398.58,48.69 L399.55,48.69 L399.55,49.87 L400.80,49.87 L400.80,51.37 L402.22,51.37 L402.22,52.91 L403.28,52.91 L403.28,53.76 L404.41,53.76 L404.41,54.37 L405.46,54.37 L405.46,54.77 L406.59,54.77 L406.59,55.14 L408.02,55.14 L408.02,55.76 L409.06,55.76 L409.06,56.39 L410.20,56.39 L410.20,57.14 L411.85,57.14 L411.85,58.35 L412.54,58.35 L412.54,58.88 L413.93,58.88 L413.93,60.07 L415.53,60.07 L415.53,61.84 L416.59,61.84 L416.59,62.90 L417.53,62.90 L417.53,63.59 L419.22,63.59 L419.22,64.45 L420.18,64.45 L420.18,64.88 L421.07,64.88 L421.07,65.29 L422.29,65.29 L422.29,65.83 L423.85,65.83 L423.85,66.50 L424.63,66.50 L424.63,66.81 L425.70,66.81 L425.70,67.21 L426.78,67.21 L426.78,67.56 L428.52,67.56 L428.52,68.00 L429.74,68.00 L429.74,68.22 L431.50,68.22 L431.50,68.47 L432.37,68.47 L432.37,68.59 L433.46,68.59 L433.46,68.75 L434.95,68.75 L434.95,68.97 L436.75,68.97 L436.75,69.19 L437.99,69.19 L437.99,69.35 L438.93,69.35 L438.93,69.46 L439.74,69.46 L439.74,69.57 L441.08,69.57 L441.08,69.76 L441.97,69.76 L441.97,69.89 L443.67,69.89 L443.67,70.20 L445.41,70.20 L445.41,70.59 L446.30,70.59 L446.30,70.83 L447.31,70.83 L447.31,71.12 L449.01,71.12 L449.01,71.64 L450.50,71.64 L450.50,72.10 L452.20,72.10 L452.20,72.60 L453.29,72.60 L453.29,72.90 L454.11,72.90 L454.11,73.09 L455.14,73.09 L455.14,73.30 L456.82,73.30 L456.82,73.60 L457.83,73.60 L457.83,73.76 L458.93,73.76 L458.93,73.92 L460.12,73.92 L460.12,74.07 L461.32,74.07 L461.32,74.21 L462.50,74.21 L462.50,74.34 L464.34,74.34 L464.34,74.53 L465.20,74.53 L465.20,74.62 L465.85,74.62 L465.85,74.67 L467.73,74.67 L467.73,74.74 L469.52,74.74 L469.52,74.76 L471.46,74.76 L471.46,74.88 L472.67,74.88 L472.67,75.11 L474.56,75.11 L474.56,75.65 L476.41,75.65 L476.41,76.16 L477.35,76.16 L477.35,76.32 L478.97,76.32 L478.97,76.46 L480.71,76.46 L480.71,76.52 L482.22,76.52 L482.22,76.57 L483.54,76.57 L483.54,76.64 L484.57,76.64 L484.57,76.75 L485.66,76.75 L485.66,76.96 L486.61,76.96 L486.61,77.21 L487.35,77.21 L487.35,77.42 L488.76,77.42 L488.76,77.77 L489.79,77.77 L489.79,77.92 L491.49,77.92 L491.49,78.23 L492.20,78.23 L492.20,78.74 L494.02,78.74 L494.02,80.50 L495.57,80.50 L495.57,80.65 L497.43,80.65 L497.43,80.73 L499.24,80.73 L499.24,80.77 L501.06,80.77 L501.06,80.80 L502.46,80.80 L502.46,80.81 L503.13,80.81 L503.13,80.81 L504.75,80.81 L504.75,80.82 L505.62,80.82 L505.62,80.84 L506.66,80.84 L506.66,80.85 L508.17,80.85 L508.17,80.91 L509.50,80.91 L509.50,81.03 L510.69,81.03 L510.69,81.22 L512.56,81.22 L512.56,81.49 L514.01,81.49 L514.01,81.49 L514.30,81.49 L514.30,81.49" fill="none" stroke="#3c46b0" stroke-width="0.9" stroke-opacity="1.0" stroke-linejoin="round" stroke-linecap="butt"/>
<line x1="373.27" y1="22.12" x2="373.27" y2="24.22" stroke="#303890" stroke-width="0.55"/>
<line x1="386.18" y1="33.30" x2="386.18" y2="35.40" stroke="#303890" stroke-width="0.55"/>
<line x1="394.93" y1="43.60" x2="394.93" y2="45.70" stroke="#303890" stroke-width="0.55"/>
<line x1="406.98" y1="53.98" x2="406.98" y2="56.08" stroke="#303890" stroke-width="0.55"/>
<line x1="414.38" y1="59.24" x2="414.38" y2="61.34" stroke="#303890" stroke-width="0.55"/>
<line x1="420.11" y1="63.55" x2="420.11" y2="65.65" stroke="#303890" stroke-width="0.55"/>
<line x1="429.49" y1="66.88" x2="429.49" y2="68.98" stroke="#303890" stroke-width="0.55"/>
<line x1="441.91" y1="68.58" x2="441.91" y2="70.68" stroke="#303890" stroke-width="0.55"/>
<line x1="447.36" y1="69.83" x2="447.36" y2="71.93" stroke="#303890" stroke-width="0.55"/>
<line x1="459.51" y1="72.69" x2="459.51" y2="74.79" stroke="#303890" stroke-width="0.55"/>
<line x1="473.06" y1="73.90" x2="473.06" y2="76.00" stroke="#303890" stroke-width="0.55"/>
<line x1="485.37" y1="75.60" x2="485.37" y2="77.70" stroke="#303890" stroke-width="0.55"/>
<line x1="497.86" y1="79.44" x2="497.86" y2="81.54" stroke="#303890" stroke-width="0.55"/>
<line x1="501.54" y1="79.50" x2="501.54" y2="81.60" stroke="#303890" stroke-width="0.55"/>
<line x1="511.93" y1="80.18" x2="511.93" y2="82.28" stroke="#303890" stroke-width="0.55"/>
<path d="M371.00,22.60 L371.71,22.60 L371.71,22.60 L372.72,22.60 L372.72,22.60 L373.72,22.60 L373.72,22.60 L375.05,22.60 L375.05,22.60 L376.25,22.60 L376.25,22.60 L377.52,22.60 L377.52,22.60 L379.18,22.60 L379.18,22.60 L379.83,22.60 L379.83,22.64 L380.55,22.64 L380.55,22.71 L381.36,22.71 L381.36,22.85 L382.18,22.85 L382.18,23.26 L382.92,23.26 L382.92,25.12 L384.83,25.12 L384.83,26.04 L386.59,26.04 L386.59,26.64 L387.36,26.64 L387.36,26.92 L388.66,26.92 L388.66,27.43 L389.72,27.43 L389.72,27.86 L390.78,27.86 L390.78,28.27 L391.88,28.27 L391.88,28.70 L393.38,28.70 L393.38,29.23 L394.79,29.23 L394.79,29.67 L395.91,29.67 L395.91,29.96 L396.81,29.96 L396.81,30.17 L397.88,30.17 L397.88,30.40 L398.69,30.40 L398.69,30.58 L400.07,30.58 L400.07,30.91 L401.65,30.91 L401.65,31.37 L402.79,31.37 L402.79,31.75 L403.55,31.75 L403.55,32.01 L404.43,32.01 L404.43,32.33 L405.56,32.33 L405.56,32.75 L407.00,32.75 L407.00,33.33 L408.67,33.33 L408.67,34.05 L409.81,34.05 L409.81,34.58 L411.50,34.58 L411.50,35.40 L412.96,35.40 L412.96,36.16 L414.17,36.16 L414.17,36.82 L415.31,36.82 L415.31,37.49 L416.60,37.49 L416.60,38.36 L418.17,38.36 L418.17,39.54 L419.36,39.54 L419.36,40.43 L420.91,40.43 L420.91,41.45 L422.16,41.45 L422.16,42.21 L423.13,42.21 L423.13,42.77 L424.48,42.77 L424.48,43.47 L426.03,43.47 L426.03,44.10 L426.78,44.10 L426.78,44.29 L427.98,44.29 L427.98,44.56 L429.18,44.56 L429.18,44.89 L430.98,44.89 L430.98,46.01 L432.84,46.01 L432.84,48.69 L433.98,48.69 L433.98,50.20 L435.80,50.20 L435.80,52.00 L437.47,52.00 L437.47,53.09 L438.47,53.09 L438.47,53.58 L439.72,53.58 L439.72,54.13 L440.53,54.13 L440.53,54.46 L442.24,54.46 L442.24,55.10 L443.75,55.10 L443.75,55.64 L445.55,55.64 L445.55,56.23 L447.23,56.23 L447.23,56.71 L448.75,56.71 L448.75,57.12 L450.35,57.12 L450.35,57.57 L451.74,57.57 L451.74,58.01 L452.52,58.01 L452.52,58.27 L453.93,58.27 L453.93,58.76 L454.59,58.76 L454.59,58.99 L455.43,58.99 L455.43,59.28 L457.08,59.28 L457.08,59.86 L457.79,59.86 L457.79,60.10 L458.56,60.10 L458.56,60.34 L459.34,60.34 L459.34,60.56 L461.13,60.56 L461.13,61.01 L462.02,61.01 L462.02,61.24 L462.70,61.24 L462.70,61.44 L464.44,61.44 L464.44,64.46 L465.25,64.46 L465.25,64.54 L467.00,64.54 L467.00,64.64 L468.52,64.64 L468.52,64.70 L470.26,64.70 L470.26,64.74 L472.15,64.74 L472.15,64.76 L473.55,64.76 L473.55,64.78 L475.24,64.78 L475.24,64.78 L475.94,64.78 L475.94,64.79 L477.58,64.79 L477.58,64.79 L478.90,64.79 L478.90,64.79 L480.48,64.79 L480.48,64.79 L481.27,64.79 L481.27,64.79 L482.89,64.79 L482.89,64.79 L484.75,64.79 L484.75,64.79 L485.48,64.79 L485.48,64.79 L486.56,64.79 L486.56,64.79 L487.94,64.79 L487.94,64.79 L489.67,64.79 L489.67,64.79 L490.63,64.79 L490.63,64.79 L491.51,64.79 L491.51,64.79 L492.49,64.79 L492.49,64.79 L493.94,64.79 L493.94,64.79 L495.57,64.79 L495.57,64.79 L496.73,64.79 L496.73,64.79 L497.86,64.79 L497.86,64.79 L499.02,64.79 L499.02,64.79 L500.13,64.79 L500.13,64.79 L501.32,64.79 L501.32,64.79 L502.08,64.79 L502.08,64.79 L503.38,64.79 L503.38,64.79 L505.30,64.79 L505.30,64.79 L505.90,64.79 L505.90,64.79" fill="none" stroke="#d42a40" stroke-width="1.05" stroke-opacity="1.0" stroke-linejoin="round" stroke-linecap="butt"/>
<line x1="372.20" y1="21.30" x2="372.20" y2="23.40" stroke="#a81830" stroke-width="0.55"/>
<line x1="373.14" y1="21.28" x2="373.14" y2="23.38" stroke="#a81830" stroke-width="0.55"/>
<line x1="375.11" y1="21.26" x2="375.11" y2="23.36" stroke="#a81830" stroke-width="0.55"/>
<line x1="377.20" y1="21.25" x2="377.20" y2="23.35" stroke="#a81830" stroke-width="0.55"/>
<line x1="379.14" y1="21.30" x2="379.14" y2="23.40" stroke="#a81830" stroke-width="0.55"/>
<line x1="380.77" y1="21.44" x2="380.77" y2="23.54" stroke="#a81830" stroke-width="0.55"/>
<line x1="382.34" y1="22.20" x2="382.34" y2="24.30" stroke="#a81830" stroke-width="0.55"/>
<line x1="384.21" y1="24.51" x2="384.21" y2="26.61" stroke="#a81830" stroke-width="0.55"/>
<line x1="386.58" y1="25.33" x2="386.58" y2="27.43" stroke="#a81830" stroke-width="0.55"/>
<line x1="387.50" y1="25.68" x2="387.50" y2="27.78" stroke="#a81830" stroke-width="0.55"/>
<line x1="388.33" y1="26.00" x2="388.33" y2="28.10" stroke="#a81830" stroke-width="0.55"/>
<line x1="390.40" y1="26.83" x2="390.40" y2="28.93" stroke="#a81830" stroke-width="0.55"/>
<line x1="392.80" y1="27.73" x2="392.80" y2="29.83" stroke="#a81830" stroke-width="0.55"/>
<line x1="394.44" y1="28.27" x2="394.44" y2="30.37" stroke="#a81830" stroke-width="0.55"/>
<line x1="395.93" y1="28.67" x2="395.93" y2="30.77" stroke="#a81830" stroke-width="0.55"/>
<line x1="397.95" y1="29.12" x2="397.95" y2="31.22" stroke="#a81830" stroke-width="0.55"/>
<line x1="398.94" y1="29.34" x2="398.94" y2="31.44" stroke="#a81830" stroke-width="0.55"/>
<line x1="400.10" y1="29.62" x2="400.10" y2="31.72" stroke="#a81830" stroke-width="0.55"/>
<line x1="401.12" y1="29.91" x2="401.12" y2="32.01" stroke="#a81830" stroke-width="0.55"/>
<line x1="402.88" y1="30.48" x2="402.88" y2="32.58" stroke="#a81830" stroke-width="0.55"/>
<line x1="404.13" y1="30.92" x2="404.13" y2="33.02" stroke="#a81830" stroke-width="0.55"/>
<line x1="405.21" y1="31.32" x2="405.21" y2="33.42" stroke="#a81830" stroke-width="0.55"/>
<line x1="407.18" y1="32.11" x2="407.18" y2="34.21" stroke="#a81830" stroke-width="0.55"/>
<line x1="409.65" y1="33.21" x2="409.65" y2="35.31" stroke="#a81830" stroke-width="0.55"/>
<line x1="410.86" y1="33.78" x2="410.86" y2="35.88" stroke="#a81830" stroke-width="0.55"/>
<line x1="412.85" y1="34.80" x2="412.85" y2="36.90" stroke="#a81830" stroke-width="0.55"/>
<line x1="414.29" y1="35.59" x2="414.29" y2="37.69" stroke="#a81830" stroke-width="0.55"/>
<line x1="416.57" y1="37.04" x2="416.57" y2="39.14" stroke="#a81830" stroke-width="0.55"/>
<line x1="418.33" y1="38.36" x2="418.33" y2="40.46" stroke="#a81830" stroke-width="0.55"/>
<line x1="419.48" y1="39.21" x2="419.48" y2="41.31" stroke="#a81830" stroke-width="0.55"/>
<line x1="420.54" y1="39.92" x2="420.54" y2="42.02" stroke="#a81830" stroke-width="0.55"/>
<line x1="421.22" y1="40.34" x2="421.22" y2="42.44" stroke="#a81830" stroke-width="0.55"/>
<line x1="422.78" y1="41.27" x2="422.78" y2="43.37" stroke="#a81830" stroke-width="0.55"/>
<line x1="424.16" y1="42.01" x2="424.16" y2="44.11" stroke="#a81830" stroke-width="0.55"/>
<line x1="425.13" y1="42.47" x2="425.13" y2="44.57" stroke="#a81830" stroke-width="0.55"/>
<line x1="426.46" y1="42.92" x2="426.46" y2="45.02" stroke="#a81830" stroke-width="0.55"/>
<line x1="427.72" y1="43.20" x2="427.72" y2="45.30" stroke="#a81830" stroke-width="0.55"/>
<line x1="429.85" y1="43.87" x2="429.85" y2="45.97" stroke="#a81830" stroke-width="0.55"/>
<line x1="430.76" y1="44.51" x2="430.76" y2="46.61" stroke="#a81830" stroke-width="0.55"/>
<line x1="433.31" y1="48.08" x2="433.31" y2="50.18" stroke="#a81830" stroke-width="0.55"/>
<line x1="434.87" y1="49.85" x2="434.87" y2="51.95" stroke="#a81830" stroke-width="0.55"/>
<line x1="436.66" y1="51.32" x2="436.66" y2="53.42" stroke="#a81830" stroke-width="0.55"/>
<line x1="438.20" y1="52.16" x2="438.20" y2="54.26" stroke="#a81830" stroke-width="0.55"/>
<line x1="440.44" y1="53.12" x2="440.44" y2="55.22" stroke="#a81830" stroke-width="0.55"/>
<line x1="442.66" y1="53.95" x2="442.66" y2="56.05" stroke="#a81830" stroke-width="0.55"/>
<line x1="444.37" y1="54.55" x2="444.37" y2="56.65" stroke="#a81830" stroke-width="0.55"/>
<line x1="445.93" y1="55.05" x2="445.93" y2="57.15" stroke="#a81830" stroke-width="0.55"/>
<line x1="447.95" y1="55.61" x2="447.95" y2="57.71" stroke="#a81830" stroke-width="0.55"/>
<line x1="450.24" y1="56.24" x2="450.24" y2="58.34" stroke="#a81830" stroke-width="0.55"/>
<line x1="451.65" y1="56.68" x2="451.65" y2="58.78" stroke="#a81830" stroke-width="0.55"/>
<line x1="453.70" y1="57.37" x2="453.70" y2="59.47" stroke="#a81830" stroke-width="0.55"/>
<line x1="456.18" y1="58.25" x2="456.18" y2="60.35" stroke="#a81830" stroke-width="0.55"/>
<line x1="457.72" y1="58.77" x2="457.72" y2="60.87" stroke="#a81830" stroke-width="0.55"/>
<line x1="458.80" y1="59.11" x2="458.80" y2="61.21" stroke="#a81830" stroke-width="0.55"/>
<line x1="459.89" y1="59.40" x2="459.89" y2="61.50" stroke="#a81830" stroke-width="0.55"/>
<line x1="461.91" y1="59.91" x2="461.91" y2="62.01" stroke="#a81830" stroke-width="0.55"/>
<line x1="463.84" y1="60.58" x2="463.84" y2="62.68" stroke="#a81830" stroke-width="0.55"/>
<line x1="466.32" y1="63.32" x2="466.32" y2="65.42" stroke="#a81830" stroke-width="0.55"/>
<line x1="468.60" y1="63.40" x2="468.60" y2="65.50" stroke="#a81830" stroke-width="0.55"/>
<line x1="469.71" y1="63.43" x2="469.71" y2="65.53" stroke="#a81830" stroke-width="0.55"/>
<line x1="470.71" y1="63.44" x2="470.71" y2="65.54" stroke="#a81830" stroke-width="0.55"/>
<line x1="471.85" y1="63.46" x2="471.85" y2="65.56" stroke="#a81830" stroke-width="0.55"/>
<line x1="472.85" y1="63.47" x2="472.85" y2="65.57" stroke="#a81830" stroke-width="0.55"/>
<line x1="474.84" y1="63.48" x2="474.84" y2="65.58" stroke="#a81830" stroke-width="0.55"/>
<line x1="477.13" y1="63.49" x2="477.13" y2="65.59" stroke="#a81830" stroke-width="0.55"/>
<line x1="479.50" y1="63.49" x2="479.50" y2="65.59" stroke="#a81830" stroke-width="0.55"/>
<line x1="480.63" y1="63.49" x2="480.63" y2="65.59" stroke="#a81830" stroke-width="0.55"/>
<line x1="482.93" y1="63.48" x2="482.93" y2="65.58" stroke="#a81830" stroke-width="0.55"/>
<line x1="484.17" y1="63.47" x2="484.17" y2="65.57" stroke="#a81830" stroke-width="0.55"/>
<line x1="485.62" y1="63.46" x2="485.62" y2="65.56" stroke="#a81830" stroke-width="0.55"/>
<line x1="487.66" y1="63.45" x2="487.66" y2="65.55" stroke="#a81830" stroke-width="0.55"/>
<line x1="488.47" y1="63.44" x2="488.47" y2="65.54" stroke="#a81830" stroke-width="0.55"/>
<line x1="489.28" y1="63.44" x2="489.28" y2="65.54" stroke="#a81830" stroke-width="0.55"/>
<line x1="491.53" y1="63.42" x2="491.53" y2="65.52" stroke="#a81830" stroke-width="0.55"/>
<line x1="492.73" y1="63.41" x2="492.73" y2="65.51" stroke="#a81830" stroke-width="0.55"/>
<line x1="494.05" y1="63.40" x2="494.05" y2="65.50" stroke="#a81830" stroke-width="0.55"/>
<line x1="495.80" y1="63.38" x2="495.80" y2="65.48" stroke="#a81830" stroke-width="0.55"/>
<line x1="497.74" y1="63.36" x2="497.74" y2="65.46" stroke="#a81830" stroke-width="0.55"/>
<line x1="498.39" y1="63.36" x2="498.39" y2="65.46" stroke="#a81830" stroke-width="0.55"/>
<line x1="499.68" y1="63.34" x2="499.68" y2="65.44" stroke="#a81830" stroke-width="0.55"/>
<line x1="501.16" y1="63.33" x2="501.16" y2="65.43" stroke="#a81830" stroke-width="0.55"/>
<line x1="502.73" y1="63.32" x2="502.73" y2="65.42" stroke="#a81830" stroke-width="0.55"/>
<line x1="503.77" y1="63.31" x2="503.77" y2="65.41" stroke="#a81830" stroke-width="0.55"/>
<line x1="505.53" y1="63.30" x2="505.53" y2="65.40" stroke="#a81830" stroke-width="0.55"/>
<text x="0.60" y="131.42" transform="rotate(0.05 0.60 131.42)" font-size="10.8" fill="#000" stroke="#000" text-anchor="start" font-weight="bold" style="stroke-width:0.3px">D</text>
<line x1="17.50" y1="150.00" x2="17.50" y2="230.90" stroke="#2a2a2a" stroke-width="0.85"/>
<line x1="14.70" y1="150.40" x2="17.50" y2="150.40" stroke="#222" stroke-width="0.8"/>
<text x="12.40" y="152.12" transform="rotate(0.05 12.40 152.12)" font-size="5.0" fill="#111" stroke="#111" text-anchor="end" font-weight="normal" style="stroke-width:0.35px">100%</text>
<line x1="15.50" y1="158.41" x2="17.50" y2="158.41" stroke="#222" stroke-width="0.8"/>
<line x1="14.70" y1="166.42" x2="17.50" y2="166.42" stroke="#222" stroke-width="0.8"/>
<text x="12.40" y="168.14" transform="rotate(0.05 12.40 168.14)" font-size="5.0" fill="#111" stroke="#111" text-anchor="end" font-weight="normal" style="stroke-width:0.35px">80%</text>
<line x1="15.50" y1="174.43" x2="17.50" y2="174.43" stroke="#222" stroke-width="0.8"/>
<line x1="14.70" y1="182.44" x2="17.50" y2="182.44" stroke="#222" stroke-width="0.8"/>
<text x="12.40" y="184.16" transform="rotate(0.05 12.40 184.16)" font-size="5.0" fill="#111" stroke="#111" text-anchor="end" font-weight="normal" style="stroke-width:0.35px">60%</text>
<line x1="15.50" y1="190.45" x2="17.50" y2="190.45" stroke="#222" stroke-width="0.8"/>
<line x1="14.70" y1="198.46" x2="17.50" y2="198.46" stroke="#222" stroke-width="0.8"/>
<text x="12.40" y="200.18" transform="rotate(0.05 12.40 200.18)" font-size="5.0" fill="#111" stroke="#111" text-anchor="end" font-weight="normal" style="stroke-width:0.35px">40%</text>
<line x1="15.50" y1="206.47" x2="17.50" y2="206.47" stroke="#222" stroke-width="0.8"/>
<line x1="14.70" y1="214.48" x2="17.50" y2="214.48" stroke="#222" stroke-width="0.8"/>
<text x="12.40" y="216.20" transform="rotate(0.05 12.40 216.20)" font-size="5.0" fill="#111" stroke="#111" text-anchor="end" font-weight="normal" style="stroke-width:0.35px">20%</text>
<line x1="15.50" y1="222.49" x2="17.50" y2="222.49" stroke="#222" stroke-width="0.8"/>
<line x1="14.70" y1="230.50" x2="17.50" y2="230.50" stroke="#222" stroke-width="0.8"/>
<text x="12.40" y="232.22" transform="rotate(0.05 12.40 232.22)" font-size="5.0" fill="#111" stroke="#111" text-anchor="end" font-weight="normal" style="stroke-width:0.35px">0%</text>
<line x1="17.10" y1="230.50" x2="160.50" y2="230.50" stroke="#2a2a2a" stroke-width="0.85"/>
<line x1="17.50" y1="230.50" x2="17.50" y2="232.90" stroke="#222" stroke-width="0.75"/>
<text x="17.50" y="236.92" transform="rotate(0.05 17.50 236.92)" font-size="4.7" fill="#111" stroke="#111" text-anchor="middle" font-weight="normal" style="stroke-width:0.35px">0</text>
<line x1="37.93" y1="230.50" x2="37.93" y2="232.90" stroke="#222" stroke-width="0.75"/>
<text x="37.93" y="236.92" transform="rotate(0.05 37.93 236.92)" font-size="4.7" fill="#111" stroke="#111" text-anchor="middle" font-weight="normal" style="stroke-width:0.35px">1</text>
<line x1="58.36" y1="230.50" x2="58.36" y2="232.90" stroke="#222" stroke-width="0.75"/>
<text x="58.36" y="236.92" transform="rotate(0.05 58.36 236.92)" font-size="4.7" fill="#111" stroke="#111" text-anchor="middle" font-weight="normal" style="stroke-width:0.35px">2</text>
<line x1="78.79" y1="230.50" x2="78.79" y2="232.90" stroke="#222" stroke-width="0.75"/>
<text x="78.79" y="236.92" transform="rotate(0.05 78.79 236.92)" font-size="4.7" fill="#111" stroke="#111" text-anchor="middle" font-weight="normal" style="stroke-width:0.35px">3</text>
<line x1="99.21" y1="230.50" x2="99.21" y2="232.90" stroke="#222" stroke-width="0.75"/>
<text x="99.21" y="236.92" transform="rotate(0.05 99.21 236.92)" font-size="4.7" fill="#111" stroke="#111" text-anchor="middle" font-weight="normal" style="stroke-width:0.35px">4</text>
<line x1="119.64" y1="230.50" x2="119.64" y2="232.90" stroke="#222" stroke-width="0.75"/>
<text x="119.64" y="236.92" transform="rotate(0.05 119.64 236.92)" font-size="4.7" fill="#111" stroke="#111" text-anchor="middle" font-weight="normal" style="stroke-width:0.35px">5</text>
<line x1="140.07" y1="230.50" x2="140.07" y2="232.90" stroke="#222" stroke-width="0.75"/>
<text x="140.07" y="236.92" transform="rotate(0.05 140.07 236.92)" font-size="4.7" fill="#111" stroke="#111" text-anchor="middle" font-weight="normal" style="stroke-width:0.35px">6</text>
<line x1="160.50" y1="230.50" x2="160.50" y2="232.90" stroke="#222" stroke-width="0.75"/>
<text x="160.50" y="236.92" transform="rotate(0.05 160.50 236.92)" font-size="4.7" fill="#111" stroke="#111" text-anchor="middle" font-weight="normal" style="stroke-width:0.35px">7</text>
<text x="89.35" y="241.18" transform="rotate(0.05 89.35 241.18)" font-size="5.16" fill="#1a1a1a" stroke="#1a1a1a" text-anchor="middle" font-weight="normal" style="stroke-width:0.3px">Years from Enrollment</text>
<text x="88.60" y="131.28" transform="rotate(0.05 88.60 131.28)" font-size="4.6" fill="#111" stroke="#111" text-anchor="middle" font-weight="normal" style="stroke-width:0.25px">5-Year</text>
<text x="61.80" y="135.58" transform="rotate(0.05 61.80 135.58)" font-size="4.6" fill="#111" stroke="#111" text-anchor="middle" font-weight="normal" style="stroke-width:0.25px">Events / N</text>
<text x="89.20" y="135.58" transform="rotate(0.05 89.20 135.58)" font-size="4.6" fill="#111" stroke="#111" text-anchor="middle" font-weight="normal" style="stroke-width:0.25px">Estimate</text>
<text x="17.50" y="139.78" transform="rotate(0.05 17.50 139.78)" font-size="4.6" fill="#4a5cd6" stroke="#4a5cd6" text-anchor="start" font-weight="normal" style="stroke-width:0.08px">TT1</text>
<text x="61.80" y="139.78" transform="rotate(0.05 61.80 139.78)" font-size="4.6" fill="#4a5cd6" stroke="#4a5cd6" text-anchor="middle" font-weight="normal" style="stroke-width:0.08px">181 / 231</text>
<text x="76.20" y="139.78" transform="rotate(0.05 76.20 139.78)" font-size="4.6" fill="#4a5cd6" stroke="#4a5cd6" text-anchor="start" font-weight="normal" style="stroke-width:0.08px">28%</text>
<text x="87.80" y="139.78" transform="rotate(0.05 87.80 139.78)" font-size="4.6" fill="#4a5cd6" stroke="#4a5cd6" text-anchor="start" font-weight="normal" style="stroke-width:0.08px">(22.33)</text>
<text x="17.50" y="144.18" transform="rotate(0.05 17.50 144.18)" font-size="4.6" fill="#e63a4a" stroke="#e63a4a" text-anchor="start" font-weight="normal" style="stroke-width:0.08px">TT2 No THAL</text>
<text x="61.80" y="144.18" transform="rotate(0.05 61.80 144.18)" font-size="4.6" fill="#e63a4a" stroke="#e63a4a" text-anchor="middle" font-weight="normal" style="stroke-width:0.08px">162 / 345</text>
<text x="76.20" y="144.18" transform="rotate(0.05 76.20 144.18)" font-size="4.6" fill="#e63a4a" stroke="#e63a4a" text-anchor="start" font-weight="normal" style="stroke-width:0.08px">43%</text>
<text x="87.80" y="144.18" transform="rotate(0.05 87.80 144.18)" font-size="4.6" fill="#e63a4a" stroke="#e63a4a" text-anchor="start" font-weight="normal" style="stroke-width:0.08px">(38.49)</text>
<text x="35.20" y="148.48" transform="rotate(0.05 35.20 148.48)" font-size="4.6" fill="#111" stroke="#111" text-anchor="start" font-weight="normal" style="stroke-width:0.25px">Logrank <tspan font-style="italic">P</tspan> &lt; .001</text>
<path d="M17.30,150.40 L18.46,150.40 L18.46,151.13 L19.82,151.13 L19.82,151.98 L20.62,151.98 L20.62,152.47 L21.63,152.47 L21.63,153.07 L23.14,153.07 L23.14,153.89 L23.94,153.89 L23.94,154.27 L25.74,154.27 L25.74,155.12 L27.57,155.12 L27.57,156.12 L28.35,156.12 L28.35,156.59 L30.22,156.59 L30.22,157.79 L31.36,157.79 L31.36,158.58 L33.01,158.58 L33.01,160.07 L34.65,160.07 L34.65,163.08 L35.68,163.08 L35.68,164.53 L37.21,164.53 L37.21,166.22 L38.71,166.22 L38.71,167.63 L40.41,167.63 L40.41,169.07 L41.41,169.07 L41.41,169.85 L43.04,169.85 L43.04,170.92 L44.94,170.92 L44.94,171.55 L46.46,171.55 L46.46,172.01 L47.81,172.01 L47.81,172.43 L48.60,172.43 L48.60,172.70 L49.90,172.70 L49.90,173.32 L51.00,173.32 L51.00,174.14 L52.59,174.14 L52.59,175.60 L54.12,175.60 L54.12,177.04 L55.51,177.04 L55.51,178.41 L56.39,178.41 L56.39,179.31 L57.88,179.31 L57.88,180.78 L59.35,180.78 L59.35,181.93 L60.24,181.93 L60.24,182.54 L62.04,182.54 L62.04,183.73 L63.54,183.73 L63.54,184.69 L64.35,184.69 L64.35,185.15 L66.22,185.15 L66.22,186.21 L67.05,186.21 L67.05,186.77 L68.13,186.77 L68.13,187.51 L69.72,187.51 L69.72,188.62 L71.14,188.62 L71.14,189.64 L72.51,189.64 L72.51,190.67 L74.01,190.67 L74.01,191.87 L75.25,191.87 L75.25,192.93 L76.31,192.93 L76.31,193.82 L77.19,193.82 L77.19,194.52 L77.93,194.52 L77.93,195.09 L79.51,195.09 L79.51,196.17 L81.14,196.17 L81.14,197.17 L82.49,197.17 L82.49,197.92 L84.11,197.92 L84.11,198.73 L85.22,198.73 L85.22,199.22 L86.22,199.22 L86.22,199.61 L87.37,199.61 L87.37,200.00 L89.15,200.00 L89.15,200.53 L89.86,200.53 L89.86,200.72 L91.16,200.72 L91.16,201.06 L92.13,201.06 L92.13,201.29 L93.78,201.29 L93.78,201.62 L94.89,201.62 L94.89,201.82 L95.98,201.82 L95.98,202.01 L97.15,202.01 L97.15,202.23 L98.50,202.23 L98.50,202.47 L100.16,202.47 L100.16,202.75 L101.27,202.75 L101.27,202.96 L103.02,202.96 L103.02,203.35 L103.81,203.35 L103.81,203.59 L104.81,203.59 L104.81,203.97 L105.59,203.97 L105.59,204.30 L106.39,204.30 L106.39,204.64 L108.05,204.64 L108.05,205.22 L109.65,205.22 L109.65,205.61 L110.54,205.61 L110.54,205.77 L111.43,205.77 L111.43,205.91 L112.63,205.91 L112.63,206.09 L114.24,206.09 L114.24,206.32 L115.95,206.32 L115.95,206.58 L117.58,206.58 L117.58,206.85 L119.00,206.85 L119.00,207.11 L119.84,207.11 L119.84,207.27 L121.00,207.27 L121.00,207.50 L121.91,207.50 L121.91,207.68 L123.24,207.68 L123.24,207.94 L124.63,207.94 L124.63,208.22 L125.54,208.22 L125.54,208.41 L126.52,208.41 L126.52,208.61 L128.18,208.61 L128.18,208.96 L128.87,208.96 L128.87,209.11 L130.57,209.11 L130.57,209.48 L132.38,209.48 L132.38,209.86 L134.26,209.86 L134.26,210.24 L135.41,210.24 L135.41,210.45 L136.78,210.45 L136.78,210.68 L138.18,210.68 L138.18,210.92 L139.66,210.92 L139.66,211.15 L141.58,211.15 L141.58,211.44 L143.12,211.44 L143.12,211.67 L144.16,211.67 L144.16,211.83 L145.93,211.83 L145.93,212.12 L147.21,212.12 L147.21,212.33 L148.64,212.33 L148.64,212.55 L150.23,212.55 L150.23,212.76 L150.89,212.76 L150.89,212.83 L152.54,212.83 L152.54,212.92 L154.05,212.92 L154.05,212.92 L155.34,212.92 L155.34,212.92 L156.67,212.92 L156.67,212.92 L157.92,212.92 L157.92,212.92 L158.82,212.92 L158.82,212.92 L160.16,212.92 L160.16,212.92 L160.86,212.92 L160.86,212.92 L161.40,212.92 L161.40,212.92" fill="none" stroke="#3c46b0" stroke-width="0.9" stroke-opacity="1.0" stroke-linejoin="round" stroke-linecap="butt"/>
<line x1="25.05" y1="153.49" x2="25.05" y2="155.59" stroke="#303890" stroke-width="0.55"/>
<line x1="36.25" y1="163.90" x2="36.25" y2="166.00" stroke="#303890" stroke-width="0.55"/>
<line x1="49.20" y1="171.65" x2="49.20" y2="173.75" stroke="#303890" stroke-width="0.55"/>
<line x1="67.81" y1="185.99" x2="67.81" y2="188.09" stroke="#303890" stroke-width="0.55"/>
<line x1="85.45" y1="198.02" x2="85.45" y2="200.12" stroke="#303890" stroke-width="0.55"/>
<line x1="92.21" y1="200.01" x2="92.21" y2="202.11" stroke="#303890" stroke-width="0.55"/>
<line x1="108.42" y1="204.02" x2="108.42" y2="206.12" stroke="#303890" stroke-width="0.55"/>
<line x1="122.19" y1="206.43" x2="122.19" y2="208.53" stroke="#303890" stroke-width="0.55"/>
<line x1="127.72" y1="207.56" x2="127.72" y2="209.66" stroke="#303890" stroke-width="0.55"/>
<line x1="137.70" y1="209.54" x2="137.70" y2="211.64" stroke="#303890" stroke-width="0.55"/>
<line x1="145.86" y1="210.81" x2="145.86" y2="212.91" stroke="#303890" stroke-width="0.55"/>
<line x1="151.79" y1="211.59" x2="151.79" y2="213.69" stroke="#303890" stroke-width="0.55"/>
<path d="M17.30,150.40 L19.16,150.40 L19.16,151.55 L20.23,151.55 L20.23,152.21 L22.01,152.21 L22.01,153.29 L23.56,153.29 L23.56,154.17 L24.39,154.17 L24.39,154.61 L26.15,154.61 L26.15,155.59 L27.59,155.59 L27.59,156.42 L29.44,156.42 L29.44,157.50 L31.02,157.50 L31.02,158.41 L32.63,158.41 L32.63,159.30 L33.73,159.30 L33.73,159.87 L35.43,159.87 L35.43,160.69 L37.29,160.69 L37.29,161.50 L39.06,161.50 L39.06,162.21 L40.28,162.21 L40.28,162.69 L41.91,162.69 L41.91,163.32 L43.19,163.32 L43.19,163.78 L43.98,163.78 L43.98,164.07 L44.69,164.07 L44.69,164.34 L45.44,164.34 L45.44,164.65 L46.35,164.65 L46.35,165.05 L47.21,165.05 L47.21,165.46 L48.51,165.46 L48.51,166.11 L50.07,166.11 L50.07,166.95 L51.41,166.95 L51.41,167.72 L52.61,167.72 L52.61,168.48 L54.11,168.48 L54.11,169.45 L55.15,169.45 L55.15,170.06 L56.41,170.06 L56.41,170.67 L58.04,170.67 L58.04,171.28 L59.21,171.28 L59.21,171.70 L60.10,171.70 L60.10,172.06 L61.92,172.06 L61.92,173.04 L63.50,173.04 L63.50,174.06 L64.63,174.06 L64.63,174.78 L65.76,174.78 L65.76,175.44 L67.10,175.44 L67.10,176.15 L68.53,176.15 L68.53,176.86 L69.47,176.86 L69.47,177.33 L70.12,177.33 L70.12,177.66 L71.04,177.66 L71.04,178.14 L72.71,178.14 L72.71,178.99 L73.55,178.99 L73.55,179.43 L74.79,179.43 L74.79,180.07 L75.70,180.07 L75.70,180.54 L76.62,180.54 L76.62,181.02 L77.49,181.02 L77.49,181.47 L78.67,181.47 L78.67,182.09 L79.54,182.09 L79.54,182.57 L80.22,182.57 L80.22,182.96 L81.01,182.96 L81.01,183.43 L81.88,183.43 L81.88,183.94 L83.17,183.94 L83.17,184.62 L83.90,184.62 L83.90,184.95 L84.58,184.95 L84.58,185.24 L85.81,185.24 L85.81,185.70 L86.99,185.70 L86.99,186.10 L88.55,186.10 L88.55,186.59 L89.27,186.59 L89.27,186.81 L90.45,186.81 L90.45,187.16 L91.61,187.16 L91.61,187.51 L92.30,187.51 L92.30,187.71 L94.20,187.71 L94.20,188.26 L95.14,188.26 L95.14,188.52 L95.91,188.52 L95.91,188.73 L97.17,188.73 L97.17,189.08 L98.04,189.08 L98.04,189.31 L99.50,189.31 L99.50,189.70 L100.60,189.70 L100.60,189.98 L101.41,189.98 L101.41,190.18 L102.13,190.18 L102.13,190.36 L103.72,190.36 L103.72,190.74 L104.73,190.74 L104.73,190.98 L106.40,190.98 L106.40,191.39 L107.66,191.39 L107.66,191.71 L109.52,191.71 L109.52,192.25 L110.56,192.25 L110.56,192.59 L111.54,192.59 L111.54,192.92 L112.53,192.92 L112.53,193.27 L114.24,193.27 L114.24,193.87 L115.71,193.87 L115.71,194.34 L116.81,194.34 L116.81,194.66 L117.58,194.66 L117.58,194.86 L119.12,194.86 L119.12,195.19 L121.03,195.19 L121.03,195.53 L122.45,195.53 L122.45,195.75 L123.10,195.75 L123.10,195.86 L123.79,195.86 L123.79,195.97 L124.56,195.97 L124.56,196.10 L125.43,196.10 L125.43,196.27 L126.13,196.27 L126.13,196.43 L126.85,196.43 L126.85,196.63 L128.35,196.63 L128.35,197.14 L130.17,197.14 L130.17,197.87 L131.08,197.87 L131.08,198.19 L133.00,198.19 L133.00,198.71 L134.27,198.71 L134.27,198.94 L135.96,198.94 L135.96,199.17 L137.80,199.17 L137.80,199.36 L139.68,199.36 L139.68,199.57 L140.37,199.57 L140.37,199.67 L141.42,199.67 L141.42,199.88 L142.86,199.88 L142.86,201.45 L144.74,201.45 L144.74,201.76 L145.50,201.76 L145.50,201.79 L146.53,201.79 L146.53,201.81 L148.29,201.81 L148.29,201.81 L149.09,201.81 L149.09,201.81 L150.24,201.81 L150.24,201.81 L151.33,201.81 L151.33,201.81 L152.86,201.81 L152.86,201.81 L154.72,201.81 L154.72,201.81 L155.20,201.81 L155.20,201.81 L155.20,201.81 L155.20,208.30 L156.80,208.30 L156.80,208.30" fill="none" stroke="#d42a40" stroke-width="1.05" stroke-opacity="1.0" stroke-linejoin="round" stroke-linecap="butt"/>
<line x1="18.41" y1="149.79" x2="18.41" y2="151.89" stroke="#a81830" stroke-width="0.55"/>
<line x1="20.33" y1="150.97" x2="20.33" y2="153.07" stroke="#a81830" stroke-width="0.55"/>
<line x1="22.43" y1="152.24" x2="22.43" y2="154.34" stroke="#a81830" stroke-width="0.55"/>
<line x1="24.03" y1="153.12" x2="24.03" y2="155.22" stroke="#a81830" stroke-width="0.55"/>
<line x1="26.29" y1="154.37" x2="26.29" y2="156.47" stroke="#a81830" stroke-width="0.55"/>
<line x1="27.55" y1="155.09" x2="27.55" y2="157.19" stroke="#a81830" stroke-width="0.55"/>
<line x1="28.89" y1="155.88" x2="28.89" y2="157.98" stroke="#a81830" stroke-width="0.55"/>
<line x1="29.91" y1="156.47" x2="29.91" y2="158.57" stroke="#a81830" stroke-width="0.55"/>
<line x1="31.91" y1="157.60" x2="31.91" y2="159.70" stroke="#a81830" stroke-width="0.55"/>
<line x1="33.37" y1="158.39" x2="33.37" y2="160.49" stroke="#a81830" stroke-width="0.55"/>
<line x1="34.46" y1="158.93" x2="34.46" y2="161.03" stroke="#a81830" stroke-width="0.55"/>
<line x1="35.36" y1="159.36" x2="35.36" y2="161.46" stroke="#a81830" stroke-width="0.55"/>
<line x1="37.26" y1="160.19" x2="37.26" y2="162.29" stroke="#a81830" stroke-width="0.55"/>
<line x1="38.95" y1="160.87" x2="38.95" y2="162.97" stroke="#a81830" stroke-width="0.55"/>
<line x1="40.83" y1="161.61" x2="40.83" y2="163.71" stroke="#a81830" stroke-width="0.55"/>
<line x1="42.13" y1="162.10" x2="42.13" y2="164.20" stroke="#a81830" stroke-width="0.55"/>
<line x1="43.60" y1="162.63" x2="43.60" y2="164.73" stroke="#a81830" stroke-width="0.55"/>
<line x1="44.48" y1="162.96" x2="44.48" y2="165.06" stroke="#a81830" stroke-width="0.55"/>
<line x1="46.36" y1="163.75" x2="46.36" y2="165.85" stroke="#a81830" stroke-width="0.55"/>
<line x1="47.00" y1="164.06" x2="47.00" y2="166.16" stroke="#a81830" stroke-width="0.55"/>
<line x1="48.44" y1="164.78" x2="48.44" y2="166.88" stroke="#a81830" stroke-width="0.55"/>
<line x1="50.41" y1="165.84" x2="50.41" y2="167.94" stroke="#a81830" stroke-width="0.55"/>
<line x1="52.23" y1="166.93" x2="52.23" y2="169.03" stroke="#a81830" stroke-width="0.55"/>
<line x1="53.00" y1="167.44" x2="53.00" y2="169.54" stroke="#a81830" stroke-width="0.55"/>
<line x1="54.03" y1="168.10" x2="54.03" y2="170.20" stroke="#a81830" stroke-width="0.55"/>
<line x1="56.15" y1="169.26" x2="56.15" y2="171.36" stroke="#a81830" stroke-width="0.55"/>
<line x1="57.90" y1="169.93" x2="57.90" y2="172.03" stroke="#a81830" stroke-width="0.55"/>
<line x1="60.08" y1="170.76" x2="60.08" y2="172.86" stroke="#a81830" stroke-width="0.55"/>
<line x1="62.25" y1="171.95" x2="62.25" y2="174.05" stroke="#a81830" stroke-width="0.55"/>
<line x1="63.66" y1="172.86" x2="63.66" y2="174.96" stroke="#a81830" stroke-width="0.55"/>
<line x1="65.88" y1="174.21" x2="65.88" y2="176.31" stroke="#a81830" stroke-width="0.55"/>
<line x1="67.80" y1="175.20" x2="67.80" y2="177.30" stroke="#a81830" stroke-width="0.55"/>
<line x1="69.00" y1="175.79" x2="69.00" y2="177.89" stroke="#a81830" stroke-width="0.55"/>
<line x1="70.26" y1="176.44" x2="70.26" y2="178.54" stroke="#a81830" stroke-width="0.55"/>
<line x1="70.99" y1="176.81" x2="70.99" y2="178.91" stroke="#a81830" stroke-width="0.55"/>
<line x1="72.31" y1="177.49" x2="72.31" y2="179.59" stroke="#a81830" stroke-width="0.55"/>
<line x1="74.63" y1="178.69" x2="74.63" y2="180.79" stroke="#a81830" stroke-width="0.55"/>
<line x1="75.42" y1="179.09" x2="75.42" y2="181.19" stroke="#a81830" stroke-width="0.55"/>
<line x1="77.05" y1="179.94" x2="77.05" y2="182.04" stroke="#a81830" stroke-width="0.55"/>
<line x1="77.84" y1="180.36" x2="77.84" y2="182.46" stroke="#a81830" stroke-width="0.55"/>
<line x1="78.59" y1="180.75" x2="78.59" y2="182.85" stroke="#a81830" stroke-width="0.55"/>
<line x1="80.36" y1="181.74" x2="80.36" y2="183.84" stroke="#a81830" stroke-width="0.55"/>
<line x1="81.39" y1="182.36" x2="81.39" y2="184.46" stroke="#a81830" stroke-width="0.55"/>
<line x1="82.08" y1="182.75" x2="82.08" y2="184.85" stroke="#a81830" stroke-width="0.55"/>
<line x1="82.95" y1="183.21" x2="82.95" y2="185.31" stroke="#a81830" stroke-width="0.55"/>
<line x1="84.71" y1="183.99" x2="84.71" y2="186.09" stroke="#a81830" stroke-width="0.55"/>
<line x1="86.37" y1="184.59" x2="86.37" y2="186.69" stroke="#a81830" stroke-width="0.55"/>
<line x1="86.99" y1="184.80" x2="86.99" y2="186.90" stroke="#a81830" stroke-width="0.55"/>
<line x1="88.00" y1="185.12" x2="88.00" y2="187.22" stroke="#a81830" stroke-width="0.55"/>
<line x1="90.34" y1="185.83" x2="90.34" y2="187.93" stroke="#a81830" stroke-width="0.55"/>
<line x1="91.34" y1="186.13" x2="91.34" y2="188.23" stroke="#a81830" stroke-width="0.55"/>
<line x1="92.95" y1="186.61" x2="92.95" y2="188.71" stroke="#a81830" stroke-width="0.55"/>
<line x1="94.31" y1="186.99" x2="94.31" y2="189.09" stroke="#a81830" stroke-width="0.55"/>
<line x1="96.31" y1="187.55" x2="96.31" y2="189.65" stroke="#a81830" stroke-width="0.55"/>
<line x1="98.00" y1="188.00" x2="98.00" y2="190.10" stroke="#a81830" stroke-width="0.55"/>
<line x1="100.02" y1="188.53" x2="100.02" y2="190.63" stroke="#a81830" stroke-width="0.55"/>
<line x1="101.59" y1="188.92" x2="101.59" y2="191.02" stroke="#a81830" stroke-width="0.55"/>
<line x1="102.52" y1="189.15" x2="102.52" y2="191.25" stroke="#a81830" stroke-width="0.55"/>
<line x1="103.44" y1="189.37" x2="103.44" y2="191.47" stroke="#a81830" stroke-width="0.55"/>
<line x1="104.19" y1="189.55" x2="104.19" y2="191.65" stroke="#a81830" stroke-width="0.55"/>
<line x1="106.27" y1="190.05" x2="106.27" y2="192.15" stroke="#a81830" stroke-width="0.55"/>
<line x1="107.07" y1="190.26" x2="107.07" y2="192.36" stroke="#a81830" stroke-width="0.55"/>
<line x1="107.72" y1="190.43" x2="107.72" y2="192.53" stroke="#a81830" stroke-width="0.55"/>
<line x1="110.06" y1="191.12" x2="110.06" y2="193.22" stroke="#a81830" stroke-width="0.55"/>
<line x1="111.02" y1="191.44" x2="111.02" y2="193.54" stroke="#a81830" stroke-width="0.55"/>
<line x1="113.22" y1="192.21" x2="113.22" y2="194.31" stroke="#a81830" stroke-width="0.55"/>
<line x1="113.98" y1="192.48" x2="113.98" y2="194.58" stroke="#a81830" stroke-width="0.55"/>
<line x1="115.42" y1="192.95" x2="115.42" y2="195.05" stroke="#a81830" stroke-width="0.55"/>
<line x1="116.42" y1="193.26" x2="116.42" y2="195.36" stroke="#a81830" stroke-width="0.55"/>
<line x1="118.51" y1="193.78" x2="118.51" y2="195.88" stroke="#a81830" stroke-width="0.55"/>
<line x1="120.22" y1="194.09" x2="120.22" y2="196.19" stroke="#a81830" stroke-width="0.55"/>
<line x1="121.97" y1="194.38" x2="121.97" y2="196.48" stroke="#a81830" stroke-width="0.55"/>
<line x1="123.94" y1="194.69" x2="123.94" y2="196.79" stroke="#a81830" stroke-width="0.55"/>
<line x1="126.11" y1="195.13" x2="126.11" y2="197.23" stroke="#a81830" stroke-width="0.55"/>
<line x1="127.34" y1="195.49" x2="127.34" y2="197.59" stroke="#a81830" stroke-width="0.55"/>
<line x1="129.02" y1="196.11" x2="129.02" y2="198.21" stroke="#a81830" stroke-width="0.55"/>
<line x1="130.42" y1="196.67" x2="130.42" y2="198.77" stroke="#a81830" stroke-width="0.55"/>
<line x1="131.22" y1="196.94" x2="131.22" y2="199.04" stroke="#a81830" stroke-width="0.55"/>
<line x1="133.33" y1="197.48" x2="133.33" y2="199.58" stroke="#a81830" stroke-width="0.55"/>
<line x1="135.00" y1="197.76" x2="135.00" y2="199.86" stroke="#a81830" stroke-width="0.55"/>
<line x1="137.06" y1="197.99" x2="137.06" y2="200.09" stroke="#a81830" stroke-width="0.55"/>
<line x1="138.03" y1="198.08" x2="138.03" y2="200.18" stroke="#a81830" stroke-width="0.55"/>
<line x1="139.60" y1="198.26" x2="139.60" y2="200.36" stroke="#a81830" stroke-width="0.55"/>
<line x1="141.04" y1="198.49" x2="141.04" y2="200.59" stroke="#a81830" stroke-width="0.55"/>
<line x1="142.95" y1="200.18" x2="142.95" y2="202.28" stroke="#a81830" stroke-width="0.55"/>
<line x1="143.69" y1="200.36" x2="143.69" y2="202.46" stroke="#a81830" stroke-width="0.55"/>
<line x1="144.91" y1="200.47" x2="144.91" y2="202.57" stroke="#a81830" stroke-width="0.55"/>
<line x1="146.38" y1="200.50" x2="146.38" y2="202.60" stroke="#a81830" stroke-width="0.55"/>
<line x1="147.11" y1="200.51" x2="147.11" y2="202.61" stroke="#a81830" stroke-width="0.55"/>
<line x1="148.71" y1="200.50" x2="148.71" y2="202.60" stroke="#a81830" stroke-width="0.55"/>
<line x1="150.63" y1="200.51" x2="150.63" y2="202.61" stroke="#a81830" stroke-width="0.55"/>
<line x1="151.99" y1="200.51" x2="151.99" y2="202.61" stroke="#a81830" stroke-width="0.55"/>
<line x1="153.76" y1="200.51" x2="153.76" y2="202.61" stroke="#a81830" stroke-width="0.55"/>
<text x="174.80" y="131.52" transform="rotate(0.05 174.80 131.52)" font-size="10.8" fill="#000" stroke="#000" text-anchor="start" font-weight="bold" style="stroke-width:0.3px">E</text>
<line x1="191.50" y1="147.60" x2="191.50" y2="229.90" stroke="#2a2a2a" stroke-width="0.85"/>
<line x1="188.70" y1="148.00" x2="191.50" y2="148.00" stroke="#222" stroke-width="0.8"/>
<text x="187.80" y="149.75" transform="rotate(0.05 187.80 149.75)" font-size="5.1" fill="#111" stroke="#111" text-anchor="end" font-weight="normal" style="stroke-width:0.35px">100%</text>
<line x1="189.50" y1="156.15" x2="191.50" y2="156.15" stroke="#222" stroke-width="0.8"/>
<line x1="188.70" y1="164.30" x2="191.50" y2="164.30" stroke="#222" stroke-width="0.8"/>
<text x="187.80" y="166.05" transform="rotate(0.05 187.80 166.05)" font-size="5.1" fill="#111" stroke="#111" text-anchor="end" font-weight="normal" style="stroke-width:0.35px">80%</text>
<line x1="189.50" y1="172.45" x2="191.50" y2="172.45" stroke="#222" stroke-width="0.8"/>
<line x1="188.70" y1="180.60" x2="191.50" y2="180.60" stroke="#222" stroke-width="0.8"/>
<text x="187.80" y="182.35" transform="rotate(0.05 187.80 182.35)" font-size="5.1" fill="#111" stroke="#111" text-anchor="end" font-weight="normal" style="stroke-width:0.35px">60%</text>
<line x1="189.50" y1="188.75" x2="191.50" y2="188.75" stroke="#222" stroke-width="0.8"/>
<line x1="188.70" y1="196.90" x2="191.50" y2="196.90" stroke="#222" stroke-width="0.8"/>
<text x="187.80" y="198.65" transform="rotate(0.05 187.80 198.65)" font-size="5.1" fill="#111" stroke="#111" text-anchor="end" font-weight="normal" style="stroke-width:0.35px">40%</text>
<line x1="189.50" y1="205.05" x2="191.50" y2="205.05" stroke="#222" stroke-width="0.8"/>
<line x1="188.70" y1="213.20" x2="191.50" y2="213.20" stroke="#222" stroke-width="0.8"/>
<text x="187.80" y="214.95" transform="rotate(0.05 187.80 214.95)" font-size="5.1" fill="#111" stroke="#111" text-anchor="end" font-weight="normal" style="stroke-width:0.35px">20%</text>
<line x1="189.50" y1="221.35" x2="191.50" y2="221.35" stroke="#222" stroke-width="0.8"/>
<line x1="188.70" y1="229.50" x2="191.50" y2="229.50" stroke="#222" stroke-width="0.8"/>
<text x="187.80" y="231.25" transform="rotate(0.05 187.80 231.25)" font-size="5.1" fill="#111" stroke="#111" text-anchor="end" font-weight="normal" style="stroke-width:0.35px">0%</text>
<line x1="191.60" y1="229.50" x2="340.00" y2="229.50" stroke="#2a2a2a" stroke-width="0.85"/>
<line x1="192.00" y1="229.50" x2="192.00" y2="231.90" stroke="#222" stroke-width="0.75"/>
<text x="192.00" y="236.62" transform="rotate(0.05 192.00 236.62)" font-size="4.7" fill="#111" stroke="#111" text-anchor="middle" font-weight="normal" style="stroke-width:0.35px">0</text>
<line x1="213.14" y1="229.50" x2="213.14" y2="231.90" stroke="#222" stroke-width="0.75"/>
<text x="213.14" y="236.62" transform="rotate(0.05 213.14 236.62)" font-size="4.7" fill="#111" stroke="#111" text-anchor="middle" font-weight="normal" style="stroke-width:0.35px">1</text>
<line x1="234.29" y1="229.50" x2="234.29" y2="231.90" stroke="#222" stroke-width="0.75"/>
<text x="234.29" y="236.62" transform="rotate(0.05 234.29 236.62)" font-size="4.7" fill="#111" stroke="#111" text-anchor="middle" font-weight="normal" style="stroke-width:0.35px">2</text>
<line x1="255.43" y1="229.50" x2="255.43" y2="231.90" stroke="#222" stroke-width="0.75"/>
<text x="255.43" y="236.62" transform="rotate(0.05 255.43 236.62)" font-size="4.7" fill="#111" stroke="#111" text-anchor="middle" font-weight="normal" style="stroke-width:0.35px">3</text>
<line x1="276.57" y1="229.50" x2="276.57" y2="231.90" stroke="#222" stroke-width="0.75"/>
<text x="276.57" y="236.62" transform="rotate(0.05 276.57 236.62)" font-size="4.7" fill="#111" stroke="#111" text-anchor="middle" font-weight="normal" style="stroke-width:0.35px">4</text>
<line x1="297.71" y1="229.50" x2="297.71" y2="231.90" stroke="#222" stroke-width="0.75"/>
<text x="297.71" y="236.62" transform="rotate(0.05 297.71 236.62)" font-size="4.7" fill="#111" stroke="#111" text-anchor="middle" font-weight="normal" style="stroke-width:0.35px">5</text>
<line x1="318.86" y1="229.50" x2="318.86" y2="231.90" stroke="#222" stroke-width="0.75"/>
<text x="318.86" y="236.62" transform="rotate(0.05 318.86 236.62)" font-size="4.7" fill="#111" stroke="#111" text-anchor="middle" font-weight="normal" style="stroke-width:0.35px">6</text>
<line x1="340.00" y1="229.50" x2="340.00" y2="231.90" stroke="#222" stroke-width="0.75"/>
<text x="340.00" y="236.62" transform="rotate(0.05 340.00 236.62)" font-size="4.7" fill="#111" stroke="#111" text-anchor="middle" font-weight="normal" style="stroke-width:0.35px">7</text>
<text x="266.30" y="241.24" transform="rotate(0.05 266.30 241.24)" font-size="5.35" fill="#1a1a1a" stroke="#1a1a1a" text-anchor="middle" font-weight="normal" style="stroke-width:0.3px">Years from Enrollment</text>
<text x="266.30" y="128.08" transform="rotate(0.05 266.30 128.08)" font-size="4.6" fill="#111" stroke="#111" text-anchor="middle" font-weight="normal" style="stroke-width:0.25px">5-Year</text>
<text x="238.20" y="132.68" transform="rotate(0.05 238.20 132.68)" font-size="4.6" fill="#111" stroke="#111" text-anchor="middle" font-weight="normal" style="stroke-width:0.25px">Deaths / N</text>
<text x="266.80" y="132.68" transform="rotate(0.05 266.80 132.68)" font-size="4.6" fill="#111" stroke="#111" text-anchor="middle" font-weight="normal" style="stroke-width:0.25px">Estimate</text>
<text x="192.30" y="136.68" transform="rotate(0.05 192.30 136.68)" font-size="4.6" fill="#4a5cd6" stroke="#4a5cd6" text-anchor="start" font-weight="normal" style="stroke-width:0.08px">TT1</text>
<text x="238.30" y="136.68" transform="rotate(0.05 238.30 136.68)" font-size="4.6" fill="#4a5cd6" stroke="#4a5cd6" text-anchor="middle" font-weight="normal" style="stroke-width:0.08px">133 / 231</text>
<text x="252.50" y="136.68" transform="rotate(0.05 252.50 136.68)" font-size="4.6" fill="#4a5cd6" stroke="#4a5cd6" text-anchor="start" font-weight="normal" style="stroke-width:0.08px">57%</text>
<text x="265.00" y="136.68" transform="rotate(0.05 265.00 136.68)" font-size="4.6" fill="#4a5cd6" stroke="#4a5cd6" text-anchor="start" font-weight="normal" style="stroke-width:0.08px">(50.63)</text>
<text x="192.30" y="141.28" transform="rotate(0.05 192.30 141.28)" font-size="4.6" fill="#e63a4a" stroke="#e63a4a" text-anchor="start" font-weight="normal" style="stroke-width:0.08px">TT2 No THAL</text>
<text x="238.30" y="141.28" transform="rotate(0.05 238.30 141.28)" font-size="4.6" fill="#e63a4a" stroke="#e63a4a" text-anchor="middle" font-weight="normal" style="stroke-width:0.08px">103 / 345</text>
<text x="252.50" y="141.28" transform="rotate(0.05 252.50 141.28)" font-size="4.6" fill="#e63a4a" stroke="#e63a4a" text-anchor="start" font-weight="normal" style="stroke-width:0.08px">62%</text>
<text x="265.00" y="141.28" transform="rotate(0.05 265.00 141.28)" font-size="4.6" fill="#e63a4a" stroke="#e63a4a" text-anchor="start" font-weight="normal" style="stroke-width:0.08px">(55.68)</text>
<text x="212.60" y="145.88" transform="rotate(0.05 212.60 145.88)" font-size="4.6" fill="#111" stroke="#111" text-anchor="start" font-weight="normal" style="stroke-width:0.25px">Logrank <tspan font-style="italic">P</tspan> = .11</text>
<path d="M192.30,147.60 L193.23,147.60 L193.23,147.84 L194.33,147.84 L194.33,148.12 L196.28,148.12 L196.28,148.62 L197.36,148.62 L197.36,148.90 L198.57,148.90 L198.57,149.23 L199.33,149.23 L199.33,149.44 L200.27,149.44 L200.27,149.71 L201.13,149.71 L201.13,149.97 L202.99,149.97 L202.99,150.57 L204.59,150.57 L204.59,151.09 L206.37,151.09 L206.37,151.69 L208.31,151.69 L208.31,152.33 L209.75,152.33 L209.75,152.81 L211.61,152.81 L211.61,153.43 L212.96,153.43 L212.96,153.88 L214.15,153.88 L214.15,154.30 L216.04,154.30 L216.04,154.99 L217.86,154.99 L217.86,156.58 L219.74,156.58 L219.74,158.65 L221.02,158.65 L221.02,159.13 L222.68,159.13 L222.68,159.50 L223.86,159.50 L223.86,159.59 L225.80,159.59 L225.80,159.74 L227.65,159.74 L227.65,160.24 L228.68,160.24 L228.68,160.74 L230.55,160.74 L230.55,161.78 L231.44,161.78 L231.44,162.25 L232.21,162.25 L232.21,162.58 L233.80,162.58 L233.80,163.14 L234.83,163.14 L234.83,163.45 L236.16,163.45 L236.16,163.81 L237.64,163.81 L237.64,164.17 L238.34,164.17 L238.34,164.30 L239.96,164.30 L239.96,164.58 L240.97,164.58 L240.97,164.77 L242.18,164.77 L242.18,165.08 L243.28,165.08 L243.28,165.42 L244.89,165.42 L244.89,166.00 L246.51,166.00 L246.51,166.67 L247.54,166.67 L247.54,167.15 L248.32,167.15 L248.32,167.56 L249.36,167.56 L249.36,168.13 L250.55,168.13 L250.55,168.77 L251.30,168.77 L251.30,169.16 L252.15,169.16 L252.15,169.57 L253.79,169.57 L253.79,170.29 L255.35,170.29 L255.35,170.92 L257.27,170.92 L257.27,171.64 L259.19,171.64 L259.19,172.26 L260.98,172.26 L260.98,172.66 L262.11,172.66 L262.11,172.93 L262.97,172.93 L262.97,173.19 L264.03,173.19 L264.03,173.57 L265.28,173.57 L265.28,174.07 L266.61,174.07 L266.61,174.64 L267.97,174.64 L267.97,175.22 L269.09,175.22 L269.09,175.71 L270.85,175.71 L270.85,176.46 L271.87,176.46 L271.87,176.90 L273.12,176.90 L273.12,177.44 L274.92,177.44 L274.92,178.23 L276.62,178.23 L276.62,178.94 L277.66,178.94 L277.66,179.34 L278.62,179.34 L278.62,179.67 L280.32,179.67 L280.32,180.15 L280.98,180.15 L280.98,180.29 L281.81,180.29 L281.81,180.46 L283.15,180.46 L283.15,180.73 L284.49,180.73 L284.49,181.01 L285.36,181.01 L285.36,181.19 L286.07,181.19 L286.07,181.33 L286.99,181.33 L286.99,181.50 L288.64,181.50 L288.64,181.80 L289.89,181.80 L289.89,182.01 L291.82,182.01 L291.82,182.26 L293.49,182.26 L293.49,182.48 L295.41,182.48 L295.41,182.81 L296.11,182.81 L296.11,182.98 L297.00,182.98 L297.00,183.24 L297.67,183.24 L297.67,183.48 L298.88,183.48 L298.88,183.97 L299.97,183.97 L299.97,184.45 L300.68,184.45 L300.68,184.76 L302.04,184.76 L302.04,185.30 L302.82,185.30 L302.82,185.57 L303.87,185.57 L303.87,185.91 L304.84,185.91 L304.84,186.20 L306.53,186.20 L306.53,186.69 L307.73,186.69 L307.73,187.05 L308.72,187.05 L308.72,187.37 L309.42,187.37 L309.42,187.62 L310.63,187.62 L310.63,188.05 L312.10,188.05 L312.10,188.60 L313.63,188.60 L313.63,189.14 L315.46,189.14 L315.46,189.74 L317.16,189.74 L317.16,190.24 L318.14,190.24 L318.14,190.51 L318.96,190.51 L318.96,190.73 L320.60,190.73 L320.60,191.13 L322.27,191.13 L322.27,191.46 L323.59,191.46 L323.59,191.67 L325.32,191.67 L325.32,191.92 L326.68,191.92 L326.68,192.14 L327.70,192.14 L327.70,192.34 L328.57,192.34 L328.57,192.51 L329.24,192.51 L329.24,192.66 L330.72,192.66 L330.72,192.98 L332.54,192.98 L332.54,193.37 L334.37,193.37 L334.37,193.71 L335.63,193.71 L335.63,193.91 L337.14,193.91 L337.14,194.14 L339.00,194.14 L339.00,194.44 L340.60,194.44 L340.60,194.70" fill="none" stroke="#3c46b0" stroke-width="0.9" stroke-opacity="1.0" stroke-linejoin="round" stroke-linecap="butt"/>
<line x1="199.53" y1="148.20" x2="199.53" y2="150.30" stroke="#303890" stroke-width="0.55"/>
<line x1="210.30" y1="151.69" x2="210.30" y2="153.79" stroke="#303890" stroke-width="0.55"/>
<line x1="222.56" y1="158.18" x2="222.56" y2="160.28" stroke="#303890" stroke-width="0.55"/>
<line x1="229.82" y1="160.08" x2="229.82" y2="162.18" stroke="#303890" stroke-width="0.55"/>
<line x1="237.26" y1="162.78" x2="237.26" y2="164.88" stroke="#303890" stroke-width="0.55"/>
<line x1="251.91" y1="168.16" x2="251.91" y2="170.26" stroke="#303890" stroke-width="0.55"/>
<line x1="270.99" y1="175.22" x2="270.99" y2="177.32" stroke="#303890" stroke-width="0.55"/>
<line x1="283.67" y1="179.54" x2="283.67" y2="181.64" stroke="#303890" stroke-width="0.55"/>
<line x1="294.35" y1="181.31" x2="294.35" y2="183.41" stroke="#303890" stroke-width="0.55"/>
<line x1="304.21" y1="184.71" x2="304.21" y2="186.81" stroke="#303890" stroke-width="0.55"/>
<line x1="315.56" y1="188.47" x2="315.56" y2="190.57" stroke="#303890" stroke-width="0.55"/>
<line x1="331.93" y1="191.94" x2="331.93" y2="194.04" stroke="#303890" stroke-width="0.55"/>
<path d="M192.30,147.60 L194.20,147.60 L194.20,148.08 L195.05,148.08 L195.05,148.30 L196.11,148.30 L196.11,148.57 L197.44,148.57 L197.44,148.92 L198.62,148.92 L198.62,149.24 L200.38,149.24 L200.38,149.74 L202.10,149.74 L202.10,150.28 L203.97,150.28 L203.97,150.89 L205.41,150.89 L205.41,151.37 L206.10,151.37 L206.10,151.60 L207.50,151.60 L207.50,152.07 L208.86,152.07 L208.86,152.52 L210.15,152.52 L210.15,152.94 L211.16,152.94 L211.16,153.28 L212.73,153.28 L212.73,153.81 L214.57,153.81 L214.57,154.45 L215.35,154.45 L215.35,154.76 L216.87,154.76 L216.87,155.55 L218.00,155.55 L218.00,156.07 L219.32,156.07 L219.32,156.45 L221.14,156.45 L221.14,156.65 L223.04,156.65 L223.04,156.76 L224.52,156.76 L224.52,156.86 L225.43,156.86 L225.43,156.94 L227.27,156.94 L227.27,157.17 L228.16,157.17 L228.16,157.30 L229.31,157.30 L229.31,157.49 L231.03,157.49 L231.03,157.81 L232.09,157.81 L232.09,158.02 L233.10,158.02 L233.10,158.23 L234.98,158.23 L234.98,158.64 L236.86,158.64 L236.86,159.07 L237.92,159.07 L237.92,159.32 L239.08,159.32 L239.08,159.59 L240.10,159.59 L240.10,159.82 L240.92,159.82 L240.92,160.00 L241.89,160.00 L241.89,160.21 L243.82,160.21 L243.82,160.63 L244.57,160.63 L244.57,160.81 L245.52,160.81 L245.52,161.06 L246.43,161.06 L246.43,161.33 L247.18,161.33 L247.18,161.58 L248.52,161.58 L248.52,162.05 L250.13,162.05 L250.13,162.66 L251.87,162.66 L251.87,163.29 L253.34,163.29 L253.34,163.75 L255.06,163.75 L255.06,164.23 L255.71,164.23 L255.71,164.41 L256.73,164.41 L256.73,164.72 L258.63,164.72 L258.63,165.46 L259.37,165.46 L259.37,165.86 L260.37,165.86 L260.37,166.49 L261.65,166.49 L261.65,167.35 L262.64,167.35 L262.64,167.95 L264.00,167.95 L264.00,168.64 L264.71,168.64 L264.71,168.96 L265.67,168.96 L265.67,169.38 L267.57,169.38 L267.57,170.17 L268.40,170.17 L268.40,170.51 L270.23,170.51 L270.23,171.22 L271.11,171.22 L271.11,171.55 L273.05,171.55 L273.05,172.23 L274.58,172.23 L274.58,172.73 L276.07,172.73 L276.07,173.22 L276.91,173.22 L276.91,173.49 L277.63,173.49 L277.63,173.74 L279.26,173.74 L279.26,174.34 L280.14,174.34 L280.14,174.69 L281.04,174.69 L281.04,175.06 L282.76,175.06 L282.76,175.72 L284.55,175.72 L284.55,176.32 L285.26,176.32 L285.26,176.56 L287.16,176.56 L287.16,177.13 L288.50,177.13 L288.50,177.46 L289.65,177.46 L289.65,177.66 L290.44,177.66 L290.44,177.76 L291.60,177.76 L291.60,177.85 L293.53,177.85 L293.53,177.94 L294.55,177.94 L294.55,177.98 L295.37,177.98 L295.37,178.03 L296.21,178.03 L296.21,178.10 L297.02,178.10 L297.02,178.22 L298.13,178.22 L298.13,178.44 L299.97,178.44 L299.97,178.92 L300.72,178.92 L300.72,179.09 L301.62,179.09 L301.62,179.29 L303.49,179.29 L303.49,179.85 L305.43,179.85 L305.43,181.39 L307.36,181.39 L307.36,182.22 L308.33,182.22 L308.33,182.26 L309.44,182.26 L309.44,182.29 L311.32,182.29 L311.32,182.32 L312.61,182.32 L312.61,182.33 L314.17,182.33 L314.17,182.34 L315.23,182.34 L315.23,182.34 L315.90,182.34 L315.90,182.34 L317.00,182.34 L317.00,182.34 L318.63,182.34 L318.63,182.34 L320.29,182.34 L320.29,182.34 L321.68,182.34 L321.68,182.34 L322.94,182.34 L322.94,182.34 L324.29,182.34 L324.29,182.34 L325.51,182.34 L325.51,182.34 L326.86,182.34 L326.86,182.34 L328.59,182.34 L328.59,182.34 L329.50,182.34 L329.50,182.34 L330.92,182.34 L330.92,182.34 L332.78,182.34 L332.78,182.34 L334.40,182.34 L334.40,182.34 L334.40,182.34 L334.40,192.80 L336.30,192.80 L336.30,192.80" fill="none" stroke="#d42a40" stroke-width="1.05" stroke-opacity="1.0" stroke-linejoin="round" stroke-linecap="butt"/>
<line x1="192.57" y1="146.37" x2="192.57" y2="148.47" stroke="#a81830" stroke-width="0.55"/>
<line x1="194.90" y1="146.96" x2="194.90" y2="149.06" stroke="#a81830" stroke-width="0.55"/>
<line x1="197.02" y1="147.51" x2="197.02" y2="149.61" stroke="#a81830" stroke-width="0.55"/>
<line x1="197.92" y1="147.75" x2="197.92" y2="149.85" stroke="#a81830" stroke-width="0.55"/>
<line x1="199.00" y1="148.04" x2="199.00" y2="150.14" stroke="#a81830" stroke-width="0.55"/>
<line x1="199.96" y1="148.32" x2="199.96" y2="150.42" stroke="#a81830" stroke-width="0.55"/>
<line x1="200.66" y1="148.53" x2="200.66" y2="150.63" stroke="#a81830" stroke-width="0.55"/>
<line x1="203.02" y1="149.27" x2="203.02" y2="151.37" stroke="#a81830" stroke-width="0.55"/>
<line x1="204.35" y1="149.72" x2="204.35" y2="151.82" stroke="#a81830" stroke-width="0.55"/>
<line x1="206.52" y1="150.44" x2="206.52" y2="152.54" stroke="#a81830" stroke-width="0.55"/>
<line x1="207.33" y1="150.71" x2="207.33" y2="152.81" stroke="#a81830" stroke-width="0.55"/>
<line x1="207.96" y1="150.92" x2="207.96" y2="153.02" stroke="#a81830" stroke-width="0.55"/>
<line x1="210.12" y1="151.63" x2="210.12" y2="153.73" stroke="#a81830" stroke-width="0.55"/>
<line x1="212.15" y1="152.31" x2="212.15" y2="154.41" stroke="#a81830" stroke-width="0.55"/>
<line x1="214.54" y1="153.14" x2="214.54" y2="155.24" stroke="#a81830" stroke-width="0.55"/>
<line x1="216.37" y1="153.97" x2="216.37" y2="156.07" stroke="#a81830" stroke-width="0.55"/>
<line x1="217.91" y1="154.73" x2="217.91" y2="156.83" stroke="#a81830" stroke-width="0.55"/>
<line x1="219.89" y1="155.24" x2="219.89" y2="157.34" stroke="#a81830" stroke-width="0.55"/>
<line x1="220.66" y1="155.31" x2="220.66" y2="157.41" stroke="#a81830" stroke-width="0.55"/>
<line x1="222.23" y1="155.42" x2="222.23" y2="157.52" stroke="#a81830" stroke-width="0.55"/>
<line x1="223.63" y1="155.50" x2="223.63" y2="157.60" stroke="#a81830" stroke-width="0.55"/>
<line x1="224.49" y1="155.56" x2="224.49" y2="157.66" stroke="#a81830" stroke-width="0.55"/>
<line x1="226.17" y1="155.72" x2="226.17" y2="157.82" stroke="#a81830" stroke-width="0.55"/>
<line x1="227.35" y1="155.88" x2="227.35" y2="157.98" stroke="#a81830" stroke-width="0.55"/>
<line x1="228.86" y1="156.11" x2="228.86" y2="158.21" stroke="#a81830" stroke-width="0.55"/>
<line x1="230.14" y1="156.34" x2="230.14" y2="158.44" stroke="#a81830" stroke-width="0.55"/>
<line x1="231.31" y1="156.56" x2="231.31" y2="158.66" stroke="#a81830" stroke-width="0.55"/>
<line x1="232.55" y1="156.81" x2="232.55" y2="158.91" stroke="#a81830" stroke-width="0.55"/>
<line x1="234.24" y1="157.18" x2="234.24" y2="159.28" stroke="#a81830" stroke-width="0.55"/>
<line x1="236.60" y1="157.71" x2="236.60" y2="159.81" stroke="#a81830" stroke-width="0.55"/>
<line x1="238.89" y1="158.24" x2="238.89" y2="160.34" stroke="#a81830" stroke-width="0.55"/>
<line x1="241.04" y1="158.73" x2="241.04" y2="160.83" stroke="#a81830" stroke-width="0.55"/>
<line x1="243.14" y1="159.18" x2="243.14" y2="161.28" stroke="#a81830" stroke-width="0.55"/>
<line x1="244.26" y1="159.44" x2="244.26" y2="161.54" stroke="#a81830" stroke-width="0.55"/>
<line x1="246.62" y1="160.09" x2="246.62" y2="162.19" stroke="#a81830" stroke-width="0.55"/>
<line x1="247.70" y1="160.46" x2="247.70" y2="162.56" stroke="#a81830" stroke-width="0.55"/>
<line x1="248.52" y1="160.76" x2="248.52" y2="162.86" stroke="#a81830" stroke-width="0.55"/>
<line x1="250.02" y1="161.32" x2="250.02" y2="163.42" stroke="#a81830" stroke-width="0.55"/>
<line x1="251.94" y1="162.01" x2="251.94" y2="164.11" stroke="#a81830" stroke-width="0.55"/>
<line x1="253.16" y1="162.40" x2="253.16" y2="164.50" stroke="#a81830" stroke-width="0.55"/>
<line x1="254.92" y1="162.89" x2="254.92" y2="164.99" stroke="#a81830" stroke-width="0.55"/>
<line x1="256.03" y1="163.20" x2="256.03" y2="165.30" stroke="#a81830" stroke-width="0.55"/>
<line x1="258.37" y1="164.03" x2="258.37" y2="166.13" stroke="#a81830" stroke-width="0.55"/>
<line x1="259.78" y1="164.81" x2="259.78" y2="166.91" stroke="#a81830" stroke-width="0.55"/>
<line x1="261.24" y1="165.78" x2="261.24" y2="167.88" stroke="#a81830" stroke-width="0.55"/>
<line x1="262.80" y1="166.73" x2="262.80" y2="168.83" stroke="#a81830" stroke-width="0.55"/>
<line x1="264.97" y1="167.78" x2="264.97" y2="169.88" stroke="#a81830" stroke-width="0.55"/>
<line x1="267.35" y1="168.79" x2="267.35" y2="170.89" stroke="#a81830" stroke-width="0.55"/>
<line x1="268.90" y1="169.41" x2="268.90" y2="171.51" stroke="#a81830" stroke-width="0.55"/>
<line x1="270.30" y1="169.95" x2="270.30" y2="172.05" stroke="#a81830" stroke-width="0.55"/>
<line x1="272.01" y1="170.57" x2="272.01" y2="172.67" stroke="#a81830" stroke-width="0.55"/>
<line x1="272.73" y1="170.82" x2="272.73" y2="172.92" stroke="#a81830" stroke-width="0.55"/>
<line x1="274.10" y1="171.28" x2="274.10" y2="173.38" stroke="#a81830" stroke-width="0.55"/>
<line x1="276.22" y1="171.97" x2="276.22" y2="174.07" stroke="#a81830" stroke-width="0.55"/>
<line x1="278.22" y1="172.65" x2="278.22" y2="174.75" stroke="#a81830" stroke-width="0.55"/>
<line x1="278.93" y1="172.91" x2="278.93" y2="175.01" stroke="#a81830" stroke-width="0.55"/>
<line x1="281.07" y1="173.78" x2="281.07" y2="175.88" stroke="#a81830" stroke-width="0.55"/>
<line x1="282.36" y1="174.28" x2="282.36" y2="176.38" stroke="#a81830" stroke-width="0.55"/>
<line x1="284.73" y1="175.08" x2="284.73" y2="177.18" stroke="#a81830" stroke-width="0.55"/>
<line x1="285.99" y1="175.49" x2="285.99" y2="177.59" stroke="#a81830" stroke-width="0.55"/>
<line x1="286.97" y1="175.78" x2="286.97" y2="177.88" stroke="#a81830" stroke-width="0.55"/>
<line x1="288.56" y1="176.17" x2="288.56" y2="178.27" stroke="#a81830" stroke-width="0.55"/>
<line x1="290.75" y1="176.49" x2="290.75" y2="178.59" stroke="#a81830" stroke-width="0.55"/>
<line x1="292.13" y1="176.58" x2="292.13" y2="178.68" stroke="#a81830" stroke-width="0.55"/>
<line x1="294.29" y1="176.67" x2="294.29" y2="178.77" stroke="#a81830" stroke-width="0.55"/>
<line x1="296.17" y1="176.80" x2="296.17" y2="178.90" stroke="#a81830" stroke-width="0.55"/>
<line x1="297.42" y1="176.99" x2="297.42" y2="179.09" stroke="#a81830" stroke-width="0.55"/>
<line x1="298.56" y1="177.25" x2="298.56" y2="179.35" stroke="#a81830" stroke-width="0.55"/>
<line x1="300.07" y1="177.64" x2="300.07" y2="179.74" stroke="#a81830" stroke-width="0.55"/>
<line x1="301.39" y1="177.94" x2="301.39" y2="180.04" stroke="#a81830" stroke-width="0.55"/>
<line x1="302.66" y1="178.26" x2="302.66" y2="180.36" stroke="#a81830" stroke-width="0.55"/>
<line x1="304.43" y1="179.18" x2="304.43" y2="181.28" stroke="#a81830" stroke-width="0.55"/>
<line x1="306.61" y1="180.83" x2="306.61" y2="182.93" stroke="#a81830" stroke-width="0.55"/>
<line x1="308.26" y1="180.96" x2="308.26" y2="183.06" stroke="#a81830" stroke-width="0.55"/>
<line x1="309.12" y1="180.98" x2="309.12" y2="183.08" stroke="#a81830" stroke-width="0.55"/>
<line x1="310.12" y1="181.00" x2="310.12" y2="183.10" stroke="#a81830" stroke-width="0.55"/>
<line x1="311.39" y1="181.02" x2="311.39" y2="183.12" stroke="#a81830" stroke-width="0.55"/>
<line x1="313.09" y1="181.03" x2="313.09" y2="183.13" stroke="#a81830" stroke-width="0.55"/>
<line x1="313.94" y1="181.04" x2="313.94" y2="183.14" stroke="#a81830" stroke-width="0.55"/>
<line x1="314.69" y1="181.04" x2="314.69" y2="183.14" stroke="#a81830" stroke-width="0.55"/>
<line x1="315.87" y1="181.04" x2="315.87" y2="183.14" stroke="#a81830" stroke-width="0.55"/>
<line x1="316.98" y1="181.04" x2="316.98" y2="183.14" stroke="#a81830" stroke-width="0.55"/>
<line x1="317.63" y1="181.04" x2="317.63" y2="183.14" stroke="#a81830" stroke-width="0.55"/>
<line x1="319.20" y1="181.04" x2="319.20" y2="183.14" stroke="#a81830" stroke-width="0.55"/>
<line x1="321.46" y1="181.04" x2="321.46" y2="183.14" stroke="#a81830" stroke-width="0.55"/>
<line x1="323.02" y1="181.04" x2="323.02" y2="183.14" stroke="#a81830" stroke-width="0.55"/>
<line x1="324.95" y1="181.03" x2="324.95" y2="183.13" stroke="#a81830" stroke-width="0.55"/>
<line x1="327.04" y1="181.02" x2="327.04" y2="183.12" stroke="#a81830" stroke-width="0.55"/>
<line x1="329.15" y1="181.02" x2="329.15" y2="183.12" stroke="#a81830" stroke-width="0.55"/>
<line x1="331.39" y1="181.01" x2="331.39" y2="183.11" stroke="#a81830" stroke-width="0.55"/>
<line x1="332.78" y1="181.00" x2="332.78" y2="183.10" stroke="#a81830" stroke-width="0.55"/>
<line x1="336.30" y1="192.00" x2="336.30" y2="193.60" stroke="#d42a40" stroke-width="0.6"/>
<line x1="340.60" y1="193.90" x2="340.60" y2="195.50" stroke="#3c46b0" stroke-width="0.6"/>
<text x="355.00" y="131.42" transform="rotate(0.05 355.00 131.42)" font-size="10.8" fill="#000" stroke="#000" text-anchor="start" font-weight="bold" style="stroke-width:0.3px">F</text>
<line x1="370.50" y1="148.50" x2="370.50" y2="230.90" stroke="#2a2a2a" stroke-width="0.85"/>
<line x1="367.70" y1="148.90" x2="370.50" y2="148.90" stroke="#222" stroke-width="0.8"/>
<text x="366.70" y="150.62" transform="rotate(0.05 366.70 150.62)" font-size="5.0" fill="#111" stroke="#111" text-anchor="end" font-weight="normal" style="stroke-width:0.35px">100%</text>
<line x1="368.50" y1="157.06" x2="370.50" y2="157.06" stroke="#222" stroke-width="0.8"/>
<line x1="367.70" y1="165.22" x2="370.50" y2="165.22" stroke="#222" stroke-width="0.8"/>
<text x="366.70" y="166.94" transform="rotate(0.05 366.70 166.94)" font-size="5.0" fill="#111" stroke="#111" text-anchor="end" font-weight="normal" style="stroke-width:0.35px">80%</text>
<line x1="368.50" y1="173.38" x2="370.50" y2="173.38" stroke="#222" stroke-width="0.8"/>
<line x1="367.70" y1="181.54" x2="370.50" y2="181.54" stroke="#222" stroke-width="0.8"/>
<text x="366.70" y="183.26" transform="rotate(0.05 366.70 183.26)" font-size="5.0" fill="#111" stroke="#111" text-anchor="end" font-weight="normal" style="stroke-width:0.35px">60%</text>
<line x1="368.50" y1="189.70" x2="370.50" y2="189.70" stroke="#222" stroke-width="0.8"/>
<line x1="367.70" y1="197.86" x2="370.50" y2="197.86" stroke="#222" stroke-width="0.8"/>
<text x="366.70" y="199.58" transform="rotate(0.05 366.70 199.58)" font-size="5.0" fill="#111" stroke="#111" text-anchor="end" font-weight="normal" style="stroke-width:0.35px">40%</text>
<line x1="368.50" y1="206.02" x2="370.50" y2="206.02" stroke="#222" stroke-width="0.8"/>
<line x1="367.70" y1="214.18" x2="370.50" y2="214.18" stroke="#222" stroke-width="0.8"/>
<text x="366.70" y="215.90" transform="rotate(0.05 366.70 215.90)" font-size="5.0" fill="#111" stroke="#111" text-anchor="end" font-weight="normal" style="stroke-width:0.35px">20%</text>
<line x1="368.50" y1="222.34" x2="370.50" y2="222.34" stroke="#222" stroke-width="0.8"/>
<line x1="367.70" y1="230.50" x2="370.50" y2="230.50" stroke="#222" stroke-width="0.8"/>
<text x="366.70" y="232.22" transform="rotate(0.05 366.70 232.22)" font-size="5.0" fill="#111" stroke="#111" text-anchor="end" font-weight="normal" style="stroke-width:0.35px">0%</text>
<line x1="370.60" y1="230.50" x2="518.00" y2="230.50" stroke="#2a2a2a" stroke-width="0.85"/>
<line x1="371.00" y1="230.50" x2="371.00" y2="232.90" stroke="#222" stroke-width="0.75"/>
<text x="371.00" y="236.42" transform="rotate(0.05 371.00 236.42)" font-size="4.7" fill="#111" stroke="#111" text-anchor="middle" font-weight="normal" style="stroke-width:0.35px">0</text>
<line x1="392.00" y1="230.50" x2="392.00" y2="232.90" stroke="#222" stroke-width="0.75"/>
<text x="392.00" y="236.42" transform="rotate(0.05 392.00 236.42)" font-size="4.7" fill="#111" stroke="#111" text-anchor="middle" font-weight="normal" style="stroke-width:0.35px">1</text>
<line x1="413.00" y1="230.50" x2="413.00" y2="232.90" stroke="#222" stroke-width="0.75"/>
<text x="413.00" y="236.42" transform="rotate(0.05 413.00 236.42)" font-size="4.7" fill="#111" stroke="#111" text-anchor="middle" font-weight="normal" style="stroke-width:0.35px">2</text>
<line x1="434.00" y1="230.50" x2="434.00" y2="232.90" stroke="#222" stroke-width="0.75"/>
<text x="434.00" y="236.42" transform="rotate(0.05 434.00 236.42)" font-size="4.7" fill="#111" stroke="#111" text-anchor="middle" font-weight="normal" style="stroke-width:0.35px">3</text>
<line x1="455.00" y1="230.50" x2="455.00" y2="232.90" stroke="#222" stroke-width="0.75"/>
<text x="455.00" y="236.42" transform="rotate(0.05 455.00 236.42)" font-size="4.7" fill="#111" stroke="#111" text-anchor="middle" font-weight="normal" style="stroke-width:0.35px">4</text>
<line x1="476.00" y1="230.50" x2="476.00" y2="232.90" stroke="#222" stroke-width="0.75"/>
<text x="476.00" y="236.42" transform="rotate(0.05 476.00 236.42)" font-size="4.7" fill="#111" stroke="#111" text-anchor="middle" font-weight="normal" style="stroke-width:0.35px">5</text>
<line x1="497.00" y1="230.50" x2="497.00" y2="232.90" stroke="#222" stroke-width="0.75"/>
<text x="497.00" y="236.42" transform="rotate(0.05 497.00 236.42)" font-size="4.7" fill="#111" stroke="#111" text-anchor="middle" font-weight="normal" style="stroke-width:0.35px">6</text>
<line x1="518.00" y1="230.50" x2="518.00" y2="232.90" stroke="#222" stroke-width="0.75"/>
<text x="518.00" y="236.42" transform="rotate(0.05 518.00 236.42)" font-size="4.7" fill="#111" stroke="#111" text-anchor="middle" font-weight="normal" style="stroke-width:0.35px">7</text>
<text x="445.25" y="241.89" transform="rotate(0.05 445.25 241.89)" font-size="5.19" fill="#1a1a1a" stroke="#1a1a1a" text-anchor="middle" font-weight="normal" style="stroke-width:0.3px">Years from Start of Therapy</text>
<text x="503.50" y="132.58" transform="rotate(0.05 503.50 132.58)" font-size="4.6" fill="#111" stroke="#111" text-anchor="middle" font-weight="normal" style="stroke-width:0.25px">5-Year</text>
<text x="475.10" y="137.58" transform="rotate(0.05 475.10 137.58)" font-size="4.6" fill="#111" stroke="#111" text-anchor="middle" font-weight="normal" style="stroke-width:0.25px">Events / N</text>
<text x="503.50" y="137.58" transform="rotate(0.05 503.50 137.58)" font-size="4.6" fill="#111" stroke="#111" text-anchor="middle" font-weight="normal" style="stroke-width:0.25px">Estimate</text>
<text x="401.10" y="142.15" transform="rotate(0.05 401.10 142.15)" font-size="4.8" fill="#4a4ad0" stroke="#4a4ad0" text-anchor="start" font-weight="normal" style="stroke-width:0.08px">1. TT1 / Age&lt;65</text>
<text x="475.40" y="142.08" transform="rotate(0.05 475.40 142.08)" font-size="4.6" fill="#4a4ad0" stroke="#4a4ad0" text-anchor="middle" font-weight="normal" style="stroke-width:0.08px">10 / 210</text>
<text x="503.60" y="142.08" transform="rotate(0.05 503.60 142.08)" font-size="4.6" fill="#4a4ad0" stroke="#4a4ad0" text-anchor="middle" font-weight="normal" style="stroke-width:0.08px">5%&#160;&#160;(5.5)</text>
<text x="401.10" y="146.55" transform="rotate(0.05 401.10 146.55)" font-size="4.8" fill="#e04040" stroke="#e04040" text-anchor="start" font-weight="normal" style="stroke-width:0.08px">2. TT2 No THAL / Age&lt;65</text>
<text x="475.40" y="146.48" transform="rotate(0.05 475.40 146.48)" font-size="4.6" fill="#e04040" stroke="#e04040" text-anchor="middle" font-weight="normal" style="stroke-width:0.08px">13 / 267</text>
<text x="503.60" y="146.48" transform="rotate(0.05 503.60 146.48)" font-size="4.6" fill="#e04040" stroke="#e04040" text-anchor="middle" font-weight="normal" style="stroke-width:0.08px">5%&#160;&#160;(5.5)</text>
<text x="401.10" y="151.25" transform="rotate(0.05 401.10 151.25)" font-size="4.8" fill="#34b034" stroke="#34b034" text-anchor="start" font-weight="normal" style="stroke-width:0.08px">3. TT1 / Age 65+</text>
<text x="475.40" y="151.18" transform="rotate(0.05 475.40 151.18)" font-size="4.6" fill="#34b034" stroke="#34b034" text-anchor="middle" font-weight="normal" style="stroke-width:0.08px">3 / 21</text>
<text x="503.60" y="151.18" transform="rotate(0.05 503.60 151.18)" font-size="4.6" fill="#34b034" stroke="#34b034" text-anchor="middle" font-weight="normal" style="stroke-width:0.08px">14%&#160;&#160;(11.17)</text>
<text x="401.10" y="155.75" transform="rotate(0.05 401.10 155.75)" font-size="4.8" fill="#f6b878" stroke="#f6b878" text-anchor="start" font-weight="normal" style="stroke-width:0.08px">4. TT2 No THAL / Age 65+</text>
<text x="475.40" y="155.68" transform="rotate(0.05 475.40 155.68)" font-size="4.6" fill="#f6b878" stroke="#f6b878" text-anchor="middle" font-weight="normal" style="stroke-width:0.08px">8 / 70</text>
<text x="503.60" y="155.68" transform="rotate(0.05 503.60 155.68)" font-size="4.6" fill="#f6b878" stroke="#f6b878" text-anchor="middle" font-weight="normal" style="stroke-width:0.08px">12%&#160;&#160;(10.13)</text>
<path d="M371.00,230.30 L372.70,230.30 L372.70,225.80 L375.50,225.80 L375.50,222.20 L381.90,222.20 L381.90,218.80 L517.70,218.80" fill="none" stroke="#66cc66" stroke-width="1.0" stroke-opacity="1.0" stroke-linejoin="round" stroke-linecap="butt"/>
<path d="M371.00,230.50 L372.50,230.50 L372.50,229.00 L376.00,229.00 L376.00,227.60 L379.60,227.60 L379.60,226.30 L384.00,226.30 L384.00,225.30 L389.20,225.30 L389.20,224.40 L394.00,224.40 L394.00,223.40 L398.80,223.40 L398.80,222.50 L403.50,222.50 L403.50,221.90 L408.50,221.90 L408.50,221.40 L413.00,221.40 L413.00,221.00 L418.00,221.00 L418.00,220.70 L501.60,220.70" fill="none" stroke="#f4b468" stroke-width="1.0" stroke-opacity="1.0" stroke-linejoin="round" stroke-linecap="butt"/>
<path d="M517.70,227.00" fill="none" stroke="#a090d0" stroke-width="0.7" stroke-opacity="1.0" stroke-linejoin="round" stroke-linecap="butt"/>
<path d="M371.00,230.50 L380.00,230.50 L380.00,230.20 L388.00,230.20 L388.00,229.50 L394.00,229.50 L394.00,228.40 L398.80,228.40 L398.80,227.20 L404.00,227.20 L404.00,226.60 L412.00,226.60 L412.00,225.90 L517.70,225.90" fill="none" stroke="#d42048" stroke-width="0.85" stroke-opacity="1.0" stroke-linejoin="round" stroke-linecap="butt"/>
<path d="M371.00,230.50 L375.80,230.50 L375.80,230.00 L382.50,230.00 L382.50,229.10 L388.00,229.10 L388.00,228.50 L394.00,228.50 L394.00,227.70 L398.80,227.70 L398.80,227.20 L410.00,227.20 L410.00,227.00 L517.70,227.00" fill="none" stroke="#5a2064" stroke-width="1.0" stroke-opacity="1.0" stroke-linejoin="round" stroke-linecap="butt"/>
<path d="M398.80,228.40 L398.80,227.20 L404.00,227.20 L404.00,226.60 L412.00,226.60 L412.00,225.90 L517.70,225.90" fill="none" stroke="#d42048" stroke-width="0.85" stroke-opacity="1.0" stroke-linejoin="round" stroke-linecap="butt"/>
<line x1="517.70" y1="217.80" x2="517.70" y2="219.60" stroke="#66cc66" stroke-width="0.6"/>
<line x1="404.00" y1="224.90" x2="404.00" y2="226.60" stroke="#b01838" stroke-width="0.55"/>
<line x1="409.00" y1="224.90" x2="409.00" y2="226.60" stroke="#b01838" stroke-width="0.55"/>
<line x1="414.00" y1="224.90" x2="414.00" y2="226.60" stroke="#b01838" stroke-width="0.55"/>
<line x1="419.00" y1="224.90" x2="419.00" y2="226.60" stroke="#b01838" stroke-width="0.55"/>
<line x1="424.00" y1="224.90" x2="424.00" y2="226.60" stroke="#b01838" stroke-width="0.55"/>
<line x1="428.00" y1="224.90" x2="428.00" y2="226.60" stroke="#b01838" stroke-width="0.55"/>
<line x1="433.00" y1="224.90" x2="433.00" y2="226.60" stroke="#b01838" stroke-width="0.55"/>
<line x1="437.00" y1="224.90" x2="437.00" y2="226.60" stroke="#b01838" stroke-width="0.55"/>
<line x1="442.00" y1="224.90" x2="442.00" y2="226.60" stroke="#b01838" stroke-width="0.55"/>
<line x1="447.00" y1="224.90" x2="447.00" y2="226.60" stroke="#b01838" stroke-width="0.55"/>
<line x1="452.00" y1="224.90" x2="452.00" y2="226.60" stroke="#b01838" stroke-width="0.55"/>
<line x1="458.00" y1="224.90" x2="458.00" y2="226.60" stroke="#b01838" stroke-width="0.55"/>
<line x1="463.00" y1="224.90" x2="463.00" y2="226.60" stroke="#b01838" stroke-width="0.55"/>
<line x1="468.00" y1="224.90" x2="468.00" y2="226.60" stroke="#b01838" stroke-width="0.55"/>
<line x1="474.00" y1="224.90" x2="474.00" y2="226.60" stroke="#b01838" stroke-width="0.55"/>
<line x1="480.00" y1="224.90" x2="480.00" y2="226.60" stroke="#b01838" stroke-width="0.55"/>
<line x1="487.00" y1="224.90" x2="487.00" y2="226.60" stroke="#b01838" stroke-width="0.55"/>
<line x1="493.00" y1="224.90" x2="493.00" y2="226.60" stroke="#b01838" stroke-width="0.55"/>
<line x1="500.00" y1="224.90" x2="500.00" y2="226.60" stroke="#b01838" stroke-width="0.55"/>
<line x1="507.00" y1="224.90" x2="507.00" y2="226.60" stroke="#b01838" stroke-width="0.55"/>
<line x1="513.00" y1="224.90" x2="513.00" y2="226.60" stroke="#b01838" stroke-width="0.55"/>
<line x1="418.00" y1="219.60" x2="418.00" y2="221.30" stroke="#e0a050" stroke-width="0.5"/>
<line x1="424.00" y1="219.60" x2="424.00" y2="221.30" stroke="#e0a050" stroke-width="0.5"/>
<line x1="430.00" y1="219.60" x2="430.00" y2="221.30" stroke="#e0a050" stroke-width="0.5"/>
<line x1="436.00" y1="219.60" x2="436.00" y2="221.30" stroke="#e0a050" stroke-width="0.5"/>
<line x1="441.00" y1="219.60" x2="441.00" y2="221.30" stroke="#e0a050" stroke-width="0.5"/>
<line x1="446.00" y1="219.60" x2="446.00" y2="221.30" stroke="#e0a050" stroke-width="0.5"/>
<line x1="452.00" y1="219.60" x2="452.00" y2="221.30" stroke="#e0a050" stroke-width="0.5"/>
<line x1="458.00" y1="219.60" x2="458.00" y2="221.30" stroke="#e0a050" stroke-width="0.5"/>
<line x1="465.00" y1="219.60" x2="465.00" y2="221.30" stroke="#e0a050" stroke-width="0.5"/>
<line x1="472.00" y1="219.60" x2="472.00" y2="221.30" stroke="#e0a050" stroke-width="0.5"/>
<line x1="480.00" y1="219.60" x2="480.00" y2="221.30" stroke="#e0a050" stroke-width="0.5"/>
<line x1="488.00" y1="219.60" x2="488.00" y2="221.30" stroke="#e0a050" stroke-width="0.5"/>
<line x1="496.00" y1="219.60" x2="496.00" y2="221.30" stroke="#e0a050" stroke-width="0.5"/>
<line x1="501.60" y1="219.60" x2="501.60" y2="221.30" stroke="#e0a050" stroke-width="0.5"/>
</g>
</svg>
</body></html>
